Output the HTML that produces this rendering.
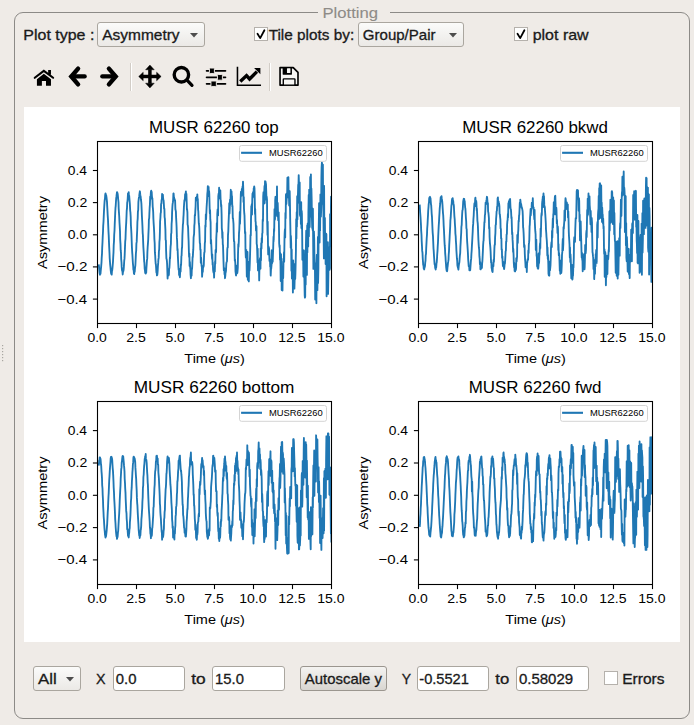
<!DOCTYPE html>
<html><head><meta charset="utf-8"><style>
html,body{margin:0;padding:0;}
body{width:694px;height:725px;overflow:hidden;background:#efebe7;position:relative;font-family:"Liberation Sans", sans-serif;}
.abs{position:absolute;}
.group{position:absolute;left:14px;top:12px;width:674px;height:705px;border:1px solid #8c8a87;border-radius:9px;}
.combo{position:absolute;border:1px solid #aaa69f;border-radius:3px;background:linear-gradient(#fbfbfa,#ebe9e6);}
.edit{position:absolute;border:1px solid #aaa69f;border-radius:3px;background:#fff;}
.btn{position:absolute;border:1px solid #9b968f;border-radius:3px;background:linear-gradient(#f4f3f1,#d9d6d1);}
.chk{position:absolute;width:12px;height:12px;border:1px solid #b5b1ac;background:#fff;}
.canvas{position:absolute;left:24px;top:107px;width:656px;height:535px;background:#fff;}
svg text{font-family:"Liberation Sans", sans-serif;}
</style></head><body>
<div class="group"></div>
<div class="abs" style="left:318px;top:4px;width:72px;height:16px;background:#efebe7"></div>

<div class="combo" style="left:97px;top:22px;width:106px;height:23px"></div>
<div class="combo" style="left:358px;top:22px;width:104px;height:23px"></div>
<div class="chk" style="left:254px;top:27px"></div>
<div class="chk" style="left:514px;top:27px"></div>

<div class="canvas"></div>

<div class="combo" style="left:33px;top:666px;width:46px;height:23px"></div>
<div class="edit" style="left:113px;top:666px;width:70px;height:23px"></div>
<div class="edit" style="left:212px;top:666px;width:71px;height:23px"></div>
<div class="btn" style="left:300px;top:666px;width:85px;height:23px"></div>
<div class="edit" style="left:417px;top:666px;width:70px;height:23px"></div>
<div class="edit" style="left:516px;top:666px;width:71px;height:23px"></div>
<div class="chk" style="left:604px;top:671px"></div>

<svg style="position:absolute;left:30px;top:62px" width="30" height="30" viewBox="0 0 694 694">
 <polyline points="110,365 320,205 535,365" fill="none" stroke="#000" stroke-width="48" stroke-linecap="round" stroke-linejoin="miter"/>
 <rect x="420" y="185" width="65" height="110" fill="#000"/>
 <polygon points="160,400 320,272 485,400 485,550 370,550 370,440 275,440 275,550 160,550" fill="#000"/>
</svg>
<svg style="position:absolute;left:62px;top:62px" width="30" height="30" viewBox="0 0 694 694">
 <polyline points="372,152 215,335 372,518" fill="none" stroke="#000" stroke-width="102" stroke-linecap="round" stroke-linejoin="miter" stroke-miterlimit="10"/>
 <line x1="250" y1="335" x2="525" y2="335" stroke="#000" stroke-width="98" stroke-linecap="round"/>
</svg>
<svg style="position:absolute;left:95px;top:62px" width="30" height="30" viewBox="0 0 694 694">
 <g transform="translate(694,0) scale(-1,1)">
 <polyline points="372,152 215,335 372,518" fill="none" stroke="#000" stroke-width="102" stroke-linecap="round" stroke-linejoin="miter" stroke-miterlimit="10"/>
 <line x1="250" y1="335" x2="525" y2="335" stroke="#000" stroke-width="98" stroke-linecap="round"/>
 </g>
</svg>
<svg style="position:absolute;left:135px;top:62px" width="30" height="30" viewBox="0 0 694 694">
 <rect x="305" y="170" width="80" height="330" fill="#000"/>
 <rect x="180" y="295" width="330" height="80" fill="#000"/>
 <polygon points="345,70 445,180 245,180" fill="#000" stroke="#000" stroke-width="10" stroke-linejoin="round"/>
 <polygon points="345,600 445,490 245,490" fill="#000" stroke="#000" stroke-width="10" stroke-linejoin="round"/>
 <polygon points="85,335 190,235 190,435" fill="#000" stroke="#000" stroke-width="10" stroke-linejoin="round"/>
 <polygon points="605,335 500,235 500,435" fill="#000" stroke="#000" stroke-width="10" stroke-linejoin="round"/>
</svg>
<svg style="position:absolute;left:168px;top:62px" width="30" height="30" viewBox="0 0 694 694">
 <circle cx="310" cy="295" r="167" fill="none" stroke="#000" stroke-width="78"/>
 <line x1="445" y1="425" x2="555" y2="540" stroke="#000" stroke-width="75" stroke-linecap="round"/>
</svg>
<svg style="position:absolute;left:201px;top:62px" width="30" height="30" viewBox="0 0 694 694">
 <g stroke="#000" stroke-width="42" stroke-linecap="round">
 <line x1="130" y1="205" x2="565" y2="205"/><line x1="130" y1="355" x2="565" y2="355"/><line x1="130" y1="505" x2="565" y2="505"/>
 </g>
 <g fill="#000" stroke="#efebe7" stroke-width="22">
 <rect x="195" y="140" width="115" height="125" rx="18"/>
 <rect x="380" y="290" width="115" height="130" rx="18"/>
 <rect x="230" y="440" width="125" height="125" rx="18"/>
 </g>
</svg>
<svg style="position:absolute;left:234px;top:62px" width="30" height="30" viewBox="0 0 694 694">
 <polyline points="80,110 80,537 625,537" fill="none" stroke="#000" stroke-width="36"/>
 <polyline points="145,450 290,315 360,392 530,222" fill="none" stroke="#000" stroke-width="78" stroke-linejoin="miter"/>
 <polygon points="465,140 610,140 610,285" fill="#000"/>
</svg>
<svg style="position:absolute;left:274px;top:62px" width="30" height="30" viewBox="0 0 694 694">
 <path d="M140,130 H445 L555,240 V535 H140 Z" fill="#f7f6f4" stroke="#000" stroke-width="38" stroke-linejoin="round"/>
 <rect x="200" y="130" width="215" height="165" rx="20" fill="#000"/>
 <rect x="300" y="145" width="80" height="110" rx="12" fill="#f7f6f4"/>
 <rect x="215" y="390" width="270" height="145" rx="14" fill="#f7f6f4" stroke="#000" stroke-width="32"/>
</svg>
<div style="position:absolute;left:130px;top:63px;width:1px;height:28px;background:#d2cdc7"></div>
<div style="position:absolute;left:131px;top:63px;width:1px;height:28px;background:#ffffff"></div>
<div style="position:absolute;left:269px;top:63px;width:1px;height:28px;background:#d2cdc7"></div>
<div style="position:absolute;left:270px;top:63px;width:1px;height:28px;background:#ffffff"></div>

<svg class="abs" style="left:0;top:0" width="694" height="725" viewBox="0 0 694 725">
<g fill="#1a1a1a">
<text x="322.43" y="17.60" font-size="14.3" fill="#8e8b87" textLength="55.64" lengthAdjust="spacingAndGlyphs" stroke="#8e8b87" stroke-width="0.1">Plotting</text>
<text x="23.29" y="39.80" font-size="14.3" fill="#1a1a1a" textLength="71.07" lengthAdjust="spacingAndGlyphs" stroke="#1a1a1a" stroke-width="0.3">Plot type :</text>
<text x="102.27" y="39.80" font-size="14.3" fill="#1a1a1a" textLength="77.36" lengthAdjust="spacingAndGlyphs" stroke="#1a1a1a" stroke-width="0.3">Asymmetry</text>
<text x="268.66" y="39.80" font-size="14.3" fill="#1a1a1a" textLength="85.53" lengthAdjust="spacingAndGlyphs" stroke="#1a1a1a" stroke-width="0.3">Tile plots by:</text>
<text x="362.84" y="39.80" font-size="14.3" fill="#1a1a1a" textLength="72.71" lengthAdjust="spacingAndGlyphs" stroke="#1a1a1a" stroke-width="0.3">Group/Pair</text>
<text x="532.67" y="39.80" font-size="14.3" fill="#1a1a1a" textLength="55.99" lengthAdjust="spacingAndGlyphs" stroke="#1a1a1a" stroke-width="0.3">plot raw</text>
<text x="38.07" y="683.80" font-size="14.3" fill="#1a1a1a" textLength="18.66" lengthAdjust="spacingAndGlyphs" stroke="#1a1a1a" stroke-width="0.3">All</text>
<text x="95.98" y="683.80" font-size="14.3" fill="#1a1a1a" textLength="9.52" lengthAdjust="spacingAndGlyphs" stroke="#1a1a1a" stroke-width="0.3">X</text>
<text x="115.82" y="683.80" font-size="14.3" fill="#1a1a1a" textLength="20.66" lengthAdjust="spacingAndGlyphs" stroke="#1a1a1a" stroke-width="0.3">0.0</text>
<text x="191.24" y="683.80" font-size="14.3" fill="#1a1a1a" textLength="14.49" lengthAdjust="spacingAndGlyphs" stroke="#1a1a1a" stroke-width="0.3">to</text>
<text x="215.07" y="683.80" font-size="14.3" fill="#1a1a1a" textLength="28.81" lengthAdjust="spacingAndGlyphs" stroke="#1a1a1a" stroke-width="0.3">15.0</text>
<text x="304.87" y="683.80" font-size="14.3" fill="#1a1a1a" textLength="77.06" lengthAdjust="spacingAndGlyphs" stroke="#1a1a1a" stroke-width="0.3">Autoscale y</text>
<text x="401.69" y="683.80" font-size="14.3" fill="#1a1a1a" textLength="9.31" lengthAdjust="spacingAndGlyphs" stroke="#1a1a1a" stroke-width="0.3">Y</text>
<text x="419.25" y="683.80" font-size="14.3" fill="#1a1a1a" textLength="49.67" lengthAdjust="spacingAndGlyphs" stroke="#1a1a1a" stroke-width="0.3">-0.5521</text>
<text x="495.35" y="683.80" font-size="14.3" fill="#1a1a1a" textLength="13.96" lengthAdjust="spacingAndGlyphs" stroke="#1a1a1a" stroke-width="0.3">to</text>
<text x="518.91" y="683.80" font-size="14.3" fill="#1a1a1a" textLength="54.20" lengthAdjust="spacingAndGlyphs" stroke="#1a1a1a" stroke-width="0.3">0.58029</text>
<text x="622.22" y="683.80" font-size="14.3" fill="#1a1a1a" textLength="42.34" lengthAdjust="spacingAndGlyphs" stroke="#1a1a1a" stroke-width="0.3">Errors</text>
</g>
<g fill="#4d4d4d">
<polygon points="190,33 198,33 194,37.5"/>
<polygon points="449,33 457,33 453,37.5"/>
<polygon points="66,677 74,677 70,681.5"/>
</g>
<g fill="none" stroke="#000" stroke-width="1.8" stroke-linecap="round" stroke-linejoin="round">
<polyline points="257.5,33.7 260.2,38.1 264.4,30.3"/>
<polyline points="517.5,33.7 520.2,38.1 524.4,30.3"/>
</g>
<g fill="#a8a6a2"><rect x="2" y="345" width="1.2" height="1.2"/><rect x="2" y="348" width="1.2" height="1.2"/><rect x="2" y="351" width="1.2" height="1.2"/><rect x="2" y="354" width="1.2" height="1.2"/><rect x="2" y="357" width="1.2" height="1.2"/><rect x="2" y="360" width="1.2" height="1.2"/></g>
<clipPath id="c1"><rect x="97.5" y="141.5" width="234.0" height="182.0"/></clipPath>
<polyline clip-path="url(#c1)" fill="none" stroke="#1f77b4" stroke-width="1.85" stroke-linejoin="round" points="98.7,264.3 99.0,266.6 99.2,269.0 99.5,272.2 99.7,273.5 100.0,274.7 100.2,273.8 100.5,273.8 100.7,271.3 101.0,268.1 101.2,266.1 101.5,262.4 101.7,257.9 102.0,253.7 102.2,247.9 102.5,242.2 102.7,237.2 103.0,231.7 103.2,226.0 103.5,221.7 103.7,217.2 104.0,210.7 104.2,207.3 104.5,202.6 104.7,200.1 105.0,198.3 105.2,194.9 105.5,193.5 105.7,194.2 106.0,194.9 106.2,195.3 106.5,197.3 106.7,199.2 107.0,201.9 107.2,206.1 107.5,211.4 107.7,215.4 108.0,219.9 108.2,224.9 108.5,231.9 108.7,235.1 109.0,242.6 109.2,247.2 109.5,253.1 109.7,258.1 110.0,262.1 110.2,265.0 110.5,267.6 110.7,270.1 111.0,272.6 111.2,273.9 111.5,274.2 111.7,274.6 112.0,270.8 112.2,270.4 112.5,267.6 112.7,265.1 113.0,261.6 113.2,257.2 113.5,252.4 113.7,245.5 114.0,241.1 114.2,234.7 114.5,230.8 114.7,225.3 115.0,218.1 115.2,213.2 115.5,207.7 115.7,206.1 116.0,201.0 116.2,198.3 116.5,196.2 116.7,194.4 117.0,192.2 117.2,192.3 117.5,193.6 117.7,194.2 118.0,197.0 118.2,199.5 118.5,202.1 118.7,208.6 119.0,213.1 119.2,216.0 119.5,222.8 119.7,225.8 120.0,231.2 120.2,239.6 120.5,244.1 120.7,250.2 121.0,252.8 121.2,259.1 121.5,262.5 121.7,266.9 122.0,270.1 122.2,270.7 122.5,271.9 122.7,274.5 123.0,271.8 123.2,271.4 123.5,270.4 123.7,269.2 124.0,264.7 124.2,261.2 124.5,258.4 124.7,254.8 125.0,246.9 125.2,241.7 125.5,238.8 125.7,232.7 126.0,226.0 126.2,223.1 126.5,216.3 126.7,210.8 127.0,208.1 127.2,202.7 127.5,201.1 127.7,198.5 128.0,193.4 128.2,193.5 128.5,194.2 128.7,192.1 128.9,196.0 129.2,195.8 129.4,198.6 129.7,202.1 129.9,204.6 130.2,210.8 130.4,212.1 130.7,217.0 130.9,225.0 131.2,229.5 131.4,233.1 131.7,241.2 131.9,246.7 132.2,252.3 132.4,254.7 132.7,260.3 132.9,263.3 133.2,266.2 133.4,269.8 133.7,270.3 133.9,273.6 134.2,274.1 134.4,270.7 134.7,271.9 134.9,269.1 135.2,266.7 135.4,265.0 135.7,258.3 135.9,253.5 136.2,250.6 136.4,243.6 136.7,241.9 136.9,236.4 137.2,230.0 137.4,222.0 137.7,218.6 137.9,211.9 138.2,210.0 138.4,202.2 138.7,199.4 138.9,197.5 139.2,196.7 139.4,194.4 139.7,192.3 139.9,191.3 140.2,194.2 140.4,195.5 140.7,197.0 140.9,199.5 141.2,201.5 141.4,203.6 141.7,210.4 141.9,215.9 142.2,221.3 142.4,225.1 142.7,233.1 142.9,235.0 143.2,243.1 143.4,247.6 143.7,252.1 143.9,256.1 144.2,261.6 144.4,262.9 144.7,269.1 144.9,269.9 145.2,273.0 145.4,272.2 145.7,273.6 145.9,271.7 146.2,272.6 146.4,268.4 146.7,264.2 146.9,260.6 147.2,258.9 147.4,252.2 147.7,246.5 147.9,244.1 148.2,239.7 148.4,234.4 148.7,227.8 148.9,219.6 149.2,218.3 149.4,213.5 149.7,207.0 149.9,204.8 150.2,196.6 150.4,199.3 150.7,195.2 150.9,192.0 151.2,190.7 151.4,192.0 151.7,191.9 151.9,195.8 152.2,199.0 152.4,198.3 152.7,206.6 152.9,208.3 153.2,212.2 153.4,218.7 153.7,224.1 153.9,227.0 154.2,233.0 154.4,239.3 154.7,243.2 154.9,252.4 155.2,255.6 155.4,259.7 155.7,263.9 155.9,264.2 156.2,269.3 156.4,272.4 156.7,271.3 156.9,275.4 157.2,275.1 157.4,274.1 157.7,270.4 157.9,266.5 158.2,262.9 158.4,259.5 158.7,257.9 158.9,251.4 159.2,249.5 159.4,242.0 159.7,238.8 159.9,231.7 160.1,221.6 160.4,217.8 160.6,213.6 160.9,212.3 161.1,203.8 161.4,203.8 161.6,199.8 161.9,199.8 162.1,193.9 162.4,195.5 162.6,195.4 162.9,194.9 163.1,198.2 163.4,200.1 163.6,200.4 163.9,204.7 164.1,208.6 164.4,208.8 164.6,217.1 164.9,218.8 165.1,224.1 165.4,229.6 165.6,239.7 165.9,240.6 166.1,250.4 166.4,258.5 166.6,259.0 166.9,260.8 167.1,263.9 167.4,272.2 167.6,278.5 167.9,272.5 168.1,275.3 168.4,274.7 168.6,275.4 168.9,274.4 169.1,269.0 169.4,267.8 169.6,264.1 169.9,257.5 170.1,258.5 170.4,250.5 170.6,246.6 170.9,243.9 171.1,234.0 171.4,233.0 171.6,224.0 171.9,220.1 172.1,212.1 172.4,206.8 172.6,204.1 172.9,202.4 173.1,200.3 173.4,193.5 173.6,193.4 173.9,197.2 174.1,197.7 174.4,199.1 174.6,199.2 174.9,200.7 175.1,200.5 175.4,209.4 175.6,209.9 175.9,211.6 176.1,217.3 176.4,222.8 176.6,227.3 176.9,237.9 177.1,240.5 177.4,250.2 177.6,249.0 177.9,256.6 178.1,261.1 178.4,266.7 178.6,269.8 178.9,268.6 179.1,275.0 179.4,273.2 179.6,275.1 179.9,277.3 180.1,273.0 180.4,269.7 180.6,271.7 180.9,264.4 181.1,265.3 181.4,256.1 181.6,255.7 181.9,247.8 182.1,247.9 182.4,235.2 182.6,230.9 182.9,224.2 183.1,223.8 183.4,217.4 183.6,214.7 183.9,207.2 184.1,204.3 184.4,200.3 184.6,201.2 184.9,198.7 185.1,194.2 185.4,195.3 185.6,193.6 185.9,191.5 186.1,197.5 186.4,193.8 186.6,199.0 186.9,209.4 187.1,209.1 187.4,212.4 187.6,224.6 187.9,225.7 188.1,227.7 188.4,236.5 188.6,240.7 188.9,251.9 189.1,257.0 189.4,253.7 189.6,266.0 189.9,262.0 190.1,266.7 190.4,269.6 190.6,274.7 190.9,278.2 191.1,273.7 191.3,273.8 191.6,275.8 191.8,269.5 192.1,268.8 192.3,264.5 192.6,256.9 192.8,257.3 193.1,251.6 193.3,249.4 193.6,237.5 193.8,235.8 194.1,233.9 194.3,225.9 194.6,223.0 194.8,214.9 195.1,215.4 195.3,211.3 195.6,206.3 195.8,197.8 196.1,199.4 196.3,199.0 196.6,199.1 196.8,196.8 197.1,199.9 197.3,194.4 197.6,201.0 197.8,199.0 198.1,209.8 198.3,211.2 198.6,218.5 198.8,223.2 199.1,225.4 199.3,228.4 199.6,237.0 199.8,242.9 200.1,243.8 200.3,249.6 200.6,249.5 200.8,262.7 201.1,257.6 201.3,261.3 201.6,266.3 201.8,265.7 202.1,276.7 202.3,272.9 202.6,270.2 202.8,272.0 203.1,265.9 203.3,267.3 203.6,266.4 203.8,265.1 204.1,255.3 204.3,252.4 204.6,251.9 204.8,243.7 205.1,241.2 205.3,225.5 205.6,226.9 205.8,214.4 206.1,219.3 206.3,214.0 206.6,207.3 206.8,204.1 207.1,199.2 207.3,194.0 207.6,191.1 207.8,186.2 208.1,193.5 208.3,196.1 208.6,186.8 208.8,194.6 209.1,191.1 209.3,194.2 209.6,206.6 209.8,213.1 210.1,210.1 210.3,219.4 210.6,222.1 210.8,243.5 211.1,239.9 211.3,244.5 211.6,251.1 211.8,255.4 212.1,258.9 212.3,254.5 212.6,264.8 212.8,262.5 213.1,269.9 213.3,271.3 213.6,272.8 213.8,269.8 214.1,277.6 214.3,268.4 214.6,271.5 214.8,271.4 215.1,261.2 215.3,263.7 215.6,249.9 215.8,252.9 216.1,251.7 216.3,238.4 216.6,232.2 216.8,223.3 217.1,231.7 217.3,214.1 217.6,209.5 217.8,214.0 218.1,215.4 218.3,196.4 218.6,193.6 218.8,198.5 219.1,187.7 219.3,192.1 219.6,193.7 219.8,193.5 220.1,192.7 220.3,190.3 220.6,199.8 220.8,200.3 221.1,206.4 221.3,205.0 221.6,214.2 221.8,228.1 222.1,231.0 222.3,237.9 222.5,232.1 222.8,244.6 223.0,245.0 223.3,254.8 223.5,261.4 223.8,270.1 224.0,269.1 224.3,268.2 224.5,274.1 224.8,273.3 225.0,278.2 225.3,275.9 225.5,273.0 225.8,271.9 226.0,270.6 226.3,264.0 226.5,262.3 226.8,261.6 227.0,261.1 227.3,249.3 227.5,247.6 227.8,247.6 228.0,235.1 228.3,231.4 228.5,224.5 228.8,217.1 229.0,211.7 229.3,203.1 229.5,213.5 229.8,207.6 230.0,199.7 230.3,204.7 230.5,199.1 230.8,189.8 231.0,197.3 231.3,192.6 231.5,191.4 231.8,197.8 232.0,196.2 232.3,206.7 232.5,206.0 232.8,218.5 233.0,218.2 233.3,221.5 233.5,223.9 233.8,238.1 234.0,241.4 234.3,241.7 234.5,248.3 234.8,260.8 235.0,259.3 235.3,263.3 235.5,271.3 235.8,273.7 236.0,275.5 236.3,274.2 236.5,269.4 236.8,265.6 237.0,268.1 237.3,273.1 237.5,271.5 237.8,267.6 238.0,255.0 238.3,244.2 238.5,247.0 238.8,241.5 239.0,233.4 239.3,229.6 239.5,223.5 239.8,212.0 240.0,223.7 240.3,215.3 240.5,206.3 240.8,194.3 241.0,191.6 241.3,196.2 241.5,195.8 241.8,189.5 242.0,188.7 242.3,191.7 242.5,186.6 242.8,186.6 243.0,181.6 243.3,189.9 243.5,202.0 243.8,197.1 244.0,208.8 244.3,213.7 244.5,215.4 244.8,226.9 245.0,233.1 245.3,232.1 245.5,249.9 245.8,257.5 246.0,253.8 246.3,249.8 246.5,257.7 246.8,276.6 247.0,270.6 247.3,276.9 247.5,252.0 247.8,279.7 248.0,277.0 248.3,266.0 248.5,276.0 248.8,281.4 249.0,272.9 249.3,261.6 249.5,270.5 249.8,263.2 250.0,256.8 250.3,245.8 250.5,234.9 250.8,235.5 251.0,220.0 251.3,206.1 251.5,210.5 251.8,204.1 252.0,214.5 252.3,198.7 252.5,193.6 252.8,197.4 253.0,192.1 253.3,192.9 253.5,196.1 253.7,188.5 254.0,187.9 254.2,186.4 254.5,188.5 254.7,196.2 255.0,213.9 255.2,208.9 255.5,221.3 255.7,221.8 256.0,230.4 256.2,225.7 256.5,226.3 256.7,243.9 257.0,245.4 257.2,250.5 257.5,262.6 257.7,248.7 258.0,270.4 258.2,260.8 258.5,262.2 258.7,260.3 259.0,269.8 259.2,280.4 259.5,265.1 259.7,269.8 260.0,258.2 260.2,267.2 260.5,268.7 260.7,248.4 261.0,260.2 261.2,243.2 261.5,248.4 261.7,238.2 262.0,242.4 262.2,233.7 262.5,232.8 262.7,219.8 263.0,221.2 263.2,196.5 263.5,192.1 263.7,204.0 264.0,200.2 264.2,192.9 264.5,186.0 264.7,203.0 265.0,181.2 265.2,199.7 265.5,181.5 265.7,182.7 266.0,184.3 266.2,190.4 266.5,199.4 266.7,196.6 267.0,199.9 267.2,221.9 267.5,235.0 267.7,221.7 268.0,245.4 268.2,254.4 268.5,246.3 268.7,249.4 269.0,247.9 269.2,252.8 269.5,260.9 269.7,259.5 270.0,259.5 270.2,266.6 270.5,267.2 270.7,275.6 271.0,269.1 271.2,268.6 271.5,265.3 271.7,250.3 272.0,263.4 272.2,259.1 272.5,250.7 272.7,261.6 273.0,252.9 273.2,248.0 273.5,236.8 273.7,240.9 274.0,228.9 274.2,231.4 274.5,209.1 274.7,219.9 275.0,219.1 275.2,200.4 275.5,196.8 275.7,214.9 276.0,204.3 276.2,212.9 276.5,212.9 276.7,213.7 277.0,186.5 277.2,216.3 277.5,210.8 277.7,202.8 278.0,212.1 278.2,220.2 278.5,219.0 278.7,212.3 279.0,229.8 279.2,243.5 279.5,247.1 279.7,245.4 280.0,259.8 280.2,253.0 280.5,264.1 280.7,281.1 281.0,254.1 281.2,266.8 281.5,258.7 281.7,290.1 282.0,278.8 282.2,282.7 282.5,290.5 282.7,272.0 283.0,278.5 283.2,277.8 283.5,261.6 283.7,262.7 284.0,252.2 284.2,261.5 284.5,238.0 284.7,232.3 284.9,229.3 285.2,237.4 285.4,213.0 285.7,218.2 285.9,194.9 286.2,194.0 286.4,203.9 286.7,198.6 286.9,196.2 287.2,191.8 287.4,177.7 287.7,191.9 287.9,177.7 288.2,194.7 288.4,177.2 288.7,198.0 288.9,193.7 289.2,205.5 289.4,192.4 289.7,191.2 289.9,200.4 290.2,219.5 290.4,229.6 290.7,247.7 290.9,235.8 291.2,243.6 291.4,270.8 291.7,249.5 291.9,278.6 292.2,278.8 292.4,277.1 292.7,270.2 292.9,292.6 293.2,260.5 293.4,274.2 293.7,266.8 293.9,281.9 294.2,264.2 294.4,288.6 294.7,278.1 294.9,279.1 295.2,278.9 295.4,273.9 295.7,261.1 295.9,251.6 296.2,219.1 296.4,238.5 296.7,212.2 296.9,226.8 297.2,196.2 297.4,219.5 297.7,201.4 297.9,196.5 298.2,184.8 298.4,189.0 298.7,175.1 298.9,181.4 299.2,202.4 299.4,202.9 299.7,182.4 299.9,214.5 300.2,216.0 300.4,211.4 300.7,211.9 300.9,224.1 301.2,202.2 301.4,228.0 301.7,211.0 301.9,213.8 302.2,236.6 302.4,259.7 302.7,254.2 302.9,251.5 303.2,258.6 303.4,276.6 303.7,276.9 303.9,250.3 304.2,260.7 304.4,279.8 304.7,295.3 304.9,297.6 305.2,296.9 305.4,256.3 305.7,284.4 305.9,247.1 306.2,230.8 306.4,266.0 306.7,251.6 306.9,274.9 307.2,225.5 307.4,252.5 307.7,223.4 307.9,236.7 308.2,246.4 308.4,213.1 308.7,194.9 308.9,236.2 309.2,189.6 309.4,198.3 309.7,227.0 309.9,216.7 310.2,177.5 310.4,176.8 310.7,216.7 310.9,174.3 311.2,211.7 311.4,188.4 311.7,201.0 311.9,217.4 312.2,227.9 312.4,226.9 312.7,230.1 312.9,208.7 313.2,246.8 313.4,268.9 313.7,250.0 313.9,231.4 314.2,239.1 314.4,252.9 314.7,262.3 314.9,263.2 315.2,299.5 315.4,293.7 315.7,285.0 315.9,264.0 316.1,275.9 316.4,303.2 316.6,268.3 316.9,254.8 317.1,286.1 317.4,290.2 317.6,273.4 317.9,236.9 318.1,283.0 318.4,268.0 318.6,234.6 318.9,217.2 319.1,203.1 319.4,235.6 319.6,242.6 319.9,207.2 320.1,230.5 320.4,194.5 320.6,215.2 320.9,216.7 321.1,211.4 321.4,176.8 321.6,167.6 321.9,162.5 322.1,170.3 322.4,203.7 322.6,193.2 322.9,164.6 323.1,203.8 323.4,212.3 323.6,231.3 323.9,258.4 324.1,185.8 324.4,248.9 324.6,244.0 324.9,217.9 325.1,237.7 325.4,234.7 325.6,264.1 325.9,253.5 326.1,233.6 326.4,234.6 326.6,296.3 326.9,264.3 327.1,267.7 327.4,288.4 327.6,259.6 327.9,242.2 328.1,293.9 328.4,273.6 328.6,257.3 328.9,259.4 329.1,258.0 329.4,247.2 329.6,269.9 329.9,268.2 330.1,214.2 330.4,237.4 330.6,241.9 330.9,209.5 331.1,196.6 331.4,247.3"/>
<rect x="97.5" y="141.5" width="234.0" height="182.0" fill="none" stroke="#000" stroke-width="1.1"/>
<line x1="97.5" y1="323.5" x2="97.5" y2="328.1" stroke="#000" stroke-width="1.1"/>
<text x="87.46" y="341.80" font-size="13.0" fill="#000" textLength="19.39" lengthAdjust="spacingAndGlyphs">0.0</text>
<line x1="136.5" y1="323.5" x2="136.5" y2="328.1" stroke="#000" stroke-width="1.1"/>
<text x="126.29" y="341.80" font-size="13.0" fill="#000" textLength="19.60" lengthAdjust="spacingAndGlyphs">2.5</text>
<line x1="175.5" y1="323.5" x2="175.5" y2="328.1" stroke="#000" stroke-width="1.1"/>
<text x="165.44" y="341.80" font-size="13.0" fill="#000" textLength="19.40" lengthAdjust="spacingAndGlyphs">5.0</text>
<line x1="214.5" y1="323.5" x2="214.5" y2="328.1" stroke="#000" stroke-width="1.1"/>
<text x="204.28" y="341.80" font-size="13.0" fill="#000" textLength="19.61" lengthAdjust="spacingAndGlyphs">7.5</text>
<line x1="253.5" y1="323.5" x2="253.5" y2="328.1" stroke="#000" stroke-width="1.1"/>
<text x="239.21" y="341.80" font-size="13.0" fill="#000" textLength="27.35" lengthAdjust="spacingAndGlyphs">10.0</text>
<line x1="292.5" y1="323.5" x2="292.5" y2="328.1" stroke="#000" stroke-width="1.1"/>
<text x="278.21" y="341.80" font-size="13.0" fill="#000" textLength="27.39" lengthAdjust="spacingAndGlyphs">12.5</text>
<line x1="331.5" y1="323.5" x2="331.5" y2="328.1" stroke="#000" stroke-width="1.1"/>
<text x="317.21" y="341.80" font-size="13.0" fill="#000" textLength="27.35" lengthAdjust="spacingAndGlyphs">15.0</text>
<line x1="92.9" y1="170.5" x2="97.5" y2="170.5" stroke="#000" stroke-width="1.1"/>
<text x="67.76" y="174.98" font-size="13.0" fill="#000" textLength="19.24" lengthAdjust="spacingAndGlyphs">0.4</text>
<line x1="92.9" y1="202.6" x2="97.5" y2="202.6" stroke="#000" stroke-width="1.1"/>
<text x="67.75" y="207.12" font-size="13.0" fill="#000" textLength="19.55" lengthAdjust="spacingAndGlyphs">0.2</text>
<line x1="92.9" y1="234.8" x2="97.5" y2="234.8" stroke="#000" stroke-width="1.1"/>
<text x="67.76" y="239.27" font-size="13.0" fill="#000" textLength="19.39" lengthAdjust="spacingAndGlyphs">0.0</text>
<line x1="92.9" y1="266.9" x2="97.5" y2="266.9" stroke="#000" stroke-width="1.1"/>
<text x="57.41" y="271.41" font-size="13.0" fill="#000" textLength="29.95" lengthAdjust="spacingAndGlyphs">−0.2</text>
<line x1="92.9" y1="299.1" x2="97.5" y2="299.1" stroke="#000" stroke-width="1.1"/>
<text x="57.42" y="303.55" font-size="13.0" fill="#000" textLength="29.62" lengthAdjust="spacingAndGlyphs">−0.4</text>
<text x="184.33" y="362.90" font-size="13.0" fill="#000" textLength="60.46" lengthAdjust="spacingAndGlyphs">Time (<tspan font-style="italic">μs</tspan>)</text>
<text transform="translate(46.70,269.00) rotate(-90)" x="-0.03" y="0" font-size="13.0" fill="#000" textLength="73.06" lengthAdjust="spacingAndGlyphs">Asymmetry</text>
<text x="149.01" y="132.70" font-size="16.4" fill="#000" textLength="129.70" lengthAdjust="spacingAndGlyphs">MUSR 62260 top</text>
<rect x="239.5" y="145.5" width="87" height="15.8" rx="2" fill="#fff" fill-opacity="0.8" stroke="#d4d4d4" stroke-width="1"/>
<line x1="241.1" y1="152.8" x2="262.0" y2="152.8" stroke="#1f77b4" stroke-width="2.1"/>
<text x="269.03" y="155.70" font-size="9.4" fill="#000" textLength="53.63" lengthAdjust="spacingAndGlyphs">MUSR62260</text>
<clipPath id="c2"><rect x="418.5" y="141.5" width="234.0" height="182.0"/></clipPath>
<polyline clip-path="url(#c2)" fill="none" stroke="#1f77b4" stroke-width="1.85" stroke-linejoin="round" points="419.7,204.6 420.0,209.9 420.2,213.0 420.5,217.0 420.7,220.3 421.0,225.5 421.2,230.9 421.5,235.0 421.7,241.1 422.0,246.5 422.2,250.9 422.5,252.9 422.7,257.6 423.0,262.0 423.2,264.9 423.5,265.5 423.7,268.3 424.0,269.0 424.2,269.5 424.5,267.2 424.7,267.2 425.0,265.8 425.2,262.9 425.5,260.7 425.7,255.4 426.0,253.8 426.2,248.5 426.5,242.6 426.7,238.5 427.0,234.4 427.2,228.5 427.5,224.7 427.7,220.8 428.0,215.4 428.2,210.8 428.5,207.1 428.7,204.1 429.0,202.3 429.2,198.3 429.5,197.7 429.7,197.1 430.0,196.8 430.2,198.4 430.5,198.1 430.7,200.8 431.0,204.6 431.2,205.3 431.5,210.2 431.7,213.8 432.0,217.2 432.2,222.0 432.5,229.1 432.7,232.9 433.0,236.4 433.2,241.3 433.5,248.5 433.7,250.6 434.0,256.0 434.2,258.7 434.5,263.3 434.7,264.7 435.0,265.3 435.2,268.2 435.5,268.5 435.7,269.5 436.0,266.3 436.2,267.5 436.5,263.3 436.7,262.6 437.0,258.8 437.2,254.8 437.5,250.9 437.7,246.9 438.0,242.0 438.2,236.8 438.5,230.3 438.7,226.4 439.0,221.7 439.2,217.9 439.5,212.9 439.7,208.8 440.0,205.6 440.2,203.7 440.5,199.9 440.7,197.2 441.0,197.0 441.2,197.2 441.5,196.2 441.7,198.2 442.0,200.0 442.2,201.1 442.5,205.0 442.7,208.6 443.0,213.3 443.2,215.0 443.5,220.6 443.7,225.7 444.0,230.7 444.2,235.3 444.5,241.9 444.7,245.2 445.0,248.8 445.2,253.7 445.5,256.8 445.7,260.6 446.0,264.1 446.2,267.4 446.5,269.9 446.7,270.9 447.0,271.3 447.2,270.9 447.5,267.0 447.7,266.0 448.0,262.8 448.2,261.7 448.5,259.8 448.7,254.8 449.0,251.1 449.2,245.6 449.5,240.1 449.7,235.6 449.9,232.0 450.2,226.3 450.4,220.3 450.7,217.7 450.9,213.9 451.2,209.3 451.4,205.8 451.7,204.0 451.9,200.3 452.2,198.6 452.4,201.2 452.7,198.2 452.9,200.6 453.2,200.9 453.4,203.2 453.7,204.7 453.9,206.2 454.2,212.6 454.4,216.3 454.7,219.4 454.9,223.8 455.2,228.0 455.4,233.6 455.7,236.3 455.9,241.0 456.2,245.2 456.4,250.5 456.7,255.0 456.9,258.2 457.2,260.8 457.4,265.4 457.7,266.7 457.9,267.5 458.2,268.5 458.4,269.7 458.7,266.4 458.9,264.9 459.2,263.1 459.4,262.1 459.7,257.7 459.9,255.3 460.2,253.1 460.4,246.9 460.7,242.0 460.9,238.0 461.2,232.7 461.4,226.8 461.7,224.8 461.9,219.2 462.2,213.2 462.4,210.6 462.7,209.8 462.9,207.0 463.2,201.5 463.4,200.4 463.7,198.8 463.9,199.2 464.2,198.9 464.4,201.7 464.7,201.1 464.9,204.3 465.2,208.0 465.4,208.5 465.7,213.9 465.9,217.7 466.2,221.5 466.4,228.3 466.7,229.3 466.9,236.3 467.2,242.2 467.4,244.7 467.7,249.6 467.9,252.8 468.2,259.6 468.4,261.9 468.7,266.3 468.9,266.0 469.2,266.4 469.4,270.3 469.7,267.3 469.9,268.0 470.2,270.3 470.4,267.8 470.7,263.4 470.9,260.6 471.2,258.4 471.4,254.2 471.7,250.1 471.9,246.1 472.2,241.1 472.4,237.2 472.7,231.8 472.9,226.8 473.2,223.9 473.4,219.5 473.7,215.5 473.9,210.8 474.2,206.2 474.4,203.6 474.7,202.9 474.9,206.1 475.2,198.6 475.4,197.6 475.7,202.1 475.9,203.2 476.2,200.8 476.4,202.8 476.7,210.1 476.9,208.6 477.2,215.3 477.4,220.6 477.7,223.1 477.9,226.1 478.2,234.7 478.4,239.8 478.7,244.9 478.9,247.7 479.2,250.0 479.4,256.2 479.7,258.8 479.9,264.3 480.2,262.1 480.4,269.2 480.7,269.4 480.9,267.1 481.1,266.3 481.4,266.4 481.6,265.7 481.9,268.0 482.1,263.7 482.4,260.8 482.6,257.0 482.9,250.8 483.1,245.6 483.4,241.2 483.6,240.6 483.9,232.1 484.1,228.7 484.4,222.0 484.6,222.4 484.9,215.0 485.1,214.5 485.4,208.7 485.6,202.8 485.9,204.5 486.1,203.6 486.4,200.5 486.6,199.7 486.9,196.8 487.1,197.1 487.4,200.7 487.6,203.6 487.9,203.1 488.1,211.6 488.4,212.7 488.6,214.6 488.9,218.0 489.1,228.4 489.4,227.3 489.6,237.2 489.9,242.8 490.1,244.7 490.4,248.1 490.6,251.3 490.9,258.5 491.1,262.8 491.4,262.5 491.6,267.8 491.9,268.9 492.1,270.8 492.4,271.7 492.6,272.0 492.9,265.3 493.1,265.4 493.4,266.2 493.6,260.0 493.9,262.0 494.1,257.7 494.4,248.5 494.6,245.0 494.9,245.0 495.1,237.1 495.4,233.1 495.6,225.1 495.9,224.8 496.1,219.0 496.4,215.0 496.6,211.2 496.9,210.8 497.1,206.6 497.4,206.6 497.6,198.4 497.9,197.4 498.1,201.9 498.4,202.8 498.6,201.3 498.9,203.6 499.1,203.5 499.4,206.3 499.6,214.1 499.9,214.4 500.1,217.1 500.4,219.9 500.6,228.4 500.9,229.0 501.1,238.6 501.4,238.3 501.6,249.8 501.9,249.3 502.1,258.0 502.4,256.3 502.6,261.3 502.9,265.9 503.1,264.4 503.4,266.6 503.6,262.1 503.9,267.9 504.1,269.0 504.4,266.9 504.6,264.1 504.9,263.7 505.1,261.5 505.4,256.0 505.6,251.5 505.9,250.5 506.1,241.7 506.4,241.6 506.6,234.5 506.9,234.2 507.1,224.8 507.4,220.9 507.6,220.3 507.9,214.0 508.1,217.3 508.4,203.2 508.6,207.9 508.9,201.1 509.1,205.1 509.4,202.9 509.6,199.7 509.9,199.2 510.1,198.9 510.4,205.8 510.6,208.9 510.9,209.3 511.1,211.9 511.4,218.2 511.6,217.1 511.9,227.4 512.1,234.3 512.3,232.5 512.6,239.9 512.8,242.9 513.1,252.0 513.3,248.8 513.6,255.8 513.8,262.8 514.1,267.1 514.3,263.0 514.6,270.9 514.8,265.7 515.1,271.4 515.3,265.0 515.6,266.9 515.8,270.2 516.1,267.8 516.3,258.1 516.6,261.6 516.8,259.2 517.1,256.5 517.3,234.9 517.6,243.2 517.8,242.7 518.1,232.4 518.3,230.1 518.6,220.8 518.8,221.8 519.1,215.2 519.3,215.0 519.6,208.0 519.8,202.8 520.1,205.3 520.3,199.6 520.6,202.1 520.8,205.4 521.1,203.8 521.3,205.1 521.6,207.8 521.8,207.2 522.1,208.4 522.3,209.4 522.6,211.2 522.8,215.1 523.1,227.2 523.3,228.2 523.6,232.9 523.8,237.6 524.1,247.0 524.3,244.6 524.6,245.8 524.8,253.7 525.1,259.6 525.3,261.5 525.6,267.3 525.8,263.3 526.1,267.2 526.3,263.6 526.6,265.5 526.8,272.0 527.1,262.1 527.3,262.5 527.6,259.3 527.8,259.7 528.1,259.7 528.3,250.5 528.6,253.0 528.8,245.0 529.1,242.2 529.3,239.8 529.6,226.4 529.8,224.6 530.1,217.1 530.3,214.9 530.6,209.0 530.8,215.3 531.1,209.9 531.3,209.7 531.6,207.9 531.8,202.8 532.1,205.0 532.3,204.9 532.6,203.6 532.8,198.2 533.1,207.6 533.3,207.7 533.6,207.4 533.8,213.1 534.1,215.9 534.3,219.2 534.6,209.8 534.8,221.7 535.1,228.3 535.3,231.2 535.6,234.3 535.8,249.9 536.1,248.7 536.3,239.6 536.6,255.9 536.8,253.7 537.1,266.3 537.3,258.6 537.6,268.0 537.8,264.0 538.1,268.8 538.3,268.2 538.6,264.3 538.8,253.3 539.1,263.0 539.3,255.7 539.6,254.2 539.8,246.7 540.1,243.1 540.3,248.4 540.6,228.6 540.8,236.6 541.1,225.6 541.3,216.0 541.6,213.0 541.8,215.4 542.1,203.9 542.3,201.4 542.6,199.7 542.8,196.8 543.1,207.0 543.3,196.3 543.5,193.5 543.8,203.6 544.0,196.2 544.3,204.9 544.5,206.7 544.8,206.8 545.0,210.7 545.3,214.6 545.5,218.0 545.8,223.2 546.0,229.8 546.3,233.5 546.5,237.1 546.8,240.6 547.0,244.4 547.3,255.4 547.5,247.5 547.8,258.9 548.0,255.1 548.3,263.7 548.5,273.7 548.8,275.4 549.0,274.6 549.3,275.7 549.5,269.3 549.8,261.4 550.0,270.4 550.3,267.4 550.5,265.2 550.8,256.4 551.0,248.1 551.3,244.1 551.5,242.1 551.8,247.1 552.0,230.9 552.3,237.4 552.5,228.0 552.8,218.8 553.0,227.6 553.3,214.0 553.5,213.7 553.8,202.1 554.0,214.5 554.3,208.2 554.5,208.2 554.8,197.8 555.0,196.2 555.3,195.7 555.5,201.7 555.8,214.4 556.0,210.9 556.3,207.7 556.5,210.1 556.8,223.3 557.0,219.9 557.3,227.9 557.5,232.9 557.8,226.5 558.0,229.9 558.3,249.9 558.5,244.1 558.8,255.1 559.0,252.9 559.3,255.4 559.5,261.2 559.8,270.7 560.0,264.5 560.3,273.8 560.5,260.6 560.8,266.8 561.0,270.8 561.3,273.0 561.5,270.9 561.8,263.9 562.0,255.0 562.3,251.9 562.5,245.0 562.8,238.9 563.0,250.1 563.3,244.2 563.5,227.1 563.8,228.9 564.0,225.0 564.3,221.2 564.5,210.4 564.8,217.1 565.0,220.5 565.3,202.9 565.5,198.2 565.8,200.0 566.0,209.4 566.3,207.3 566.5,206.3 566.8,202.3 567.0,204.0 567.3,207.7 567.5,204.4 567.8,204.6 568.0,217.6 568.3,211.3 568.5,218.3 568.8,232.0 569.0,236.5 569.3,241.0 569.5,244.3 569.8,257.4 570.0,247.5 570.3,261.9 570.5,254.3 570.8,260.0 571.0,268.5 571.3,278.2 571.5,272.6 571.8,271.8 572.0,265.0 572.3,279.5 572.5,279.3 572.8,275.3 573.0,275.7 573.3,267.0 573.5,267.4 573.8,257.3 574.0,241.6 574.3,237.2 574.5,240.2 574.7,238.4 575.0,241.8 575.2,231.5 575.5,222.8 575.7,218.1 576.0,217.8 576.2,218.6 576.5,201.8 576.7,191.1 577.0,189.9 577.2,191.3 577.5,191.3 577.7,190.1 578.0,190.5 578.2,198.4 578.5,199.9 578.7,210.7 579.0,198.2 579.2,200.7 579.5,221.7 579.7,214.6 580.0,240.3 580.2,223.8 580.5,234.4 580.7,221.4 581.0,234.8 581.2,240.1 581.5,251.6 581.7,257.4 582.0,252.8 582.2,259.3 582.5,261.1 582.7,271.3 583.0,262.0 583.2,260.0 583.5,262.5 583.7,266.3 584.0,254.1 584.2,261.2 584.5,269.4 584.7,266.9 585.0,255.7 585.2,245.0 585.5,253.6 585.7,252.9 586.0,249.2 586.2,234.0 586.5,230.7 586.7,237.0 587.0,219.4 587.2,210.0 587.5,215.8 587.7,198.6 588.0,214.4 588.2,206.6 588.5,193.5 588.7,204.4 589.0,206.7 589.2,197.4 589.5,196.3 589.7,205.3 590.0,209.2 590.2,216.7 590.5,224.3 590.7,210.8 591.0,220.1 591.2,220.3 591.5,232.0 591.7,218.0 592.0,222.5 592.2,237.1 592.5,252.3 592.7,252.9 593.0,256.2 593.2,257.6 593.5,269.1 593.7,259.5 594.0,262.3 594.2,279.1 594.5,269.8 594.7,271.1 595.0,273.7 595.2,262.2 595.5,266.3 595.7,254.2 596.0,255.4 596.2,250.0 596.5,258.9 596.7,262.9 597.0,244.0 597.2,225.2 597.5,222.0 597.7,237.4 598.0,215.4 598.2,211.5 598.5,208.5 598.7,195.9 599.0,219.0 599.2,188.3 599.5,191.9 599.7,183.5 600.0,183.3 600.2,192.9 600.5,187.3 600.7,217.9 601.0,194.5 601.2,185.4 601.5,213.0 601.7,202.6 602.0,221.9 602.2,207.6 602.5,215.2 602.7,214.6 603.0,223.8 603.2,218.6 603.5,228.7 603.7,226.4 604.0,248.8 604.2,254.0 604.5,249.5 604.7,276.8 605.0,263.8 605.2,251.8 605.5,254.1 605.7,266.9 605.9,285.3 606.2,268.8 606.4,276.9 606.7,264.5 606.9,262.1 607.2,255.8 607.4,274.1 607.7,256.4 607.9,259.5 608.2,259.2 608.4,256.1 608.7,249.8 608.9,251.4 609.2,231.2 609.4,211.4 609.7,230.4 609.9,210.8 610.2,219.4 610.4,199.8 610.7,218.7 610.9,222.7 611.2,219.3 611.4,219.3 611.7,191.7 611.9,191.1 612.2,192.5 612.4,202.1 612.7,216.7 612.9,224.0 613.2,197.5 613.4,214.6 613.7,207.4 613.9,200.5 614.2,234.3 614.4,213.0 614.7,234.4 614.9,240.6 615.2,242.1 615.4,254.7 615.7,272.8 615.9,258.0 616.2,250.7 616.4,260.8 616.7,275.8 616.9,241.6 617.2,256.9 617.4,241.1 617.7,278.6 617.9,253.1 618.2,258.7 618.4,274.8 618.7,257.6 618.9,253.9 619.2,238.3 619.4,243.5 619.7,255.7 619.9,229.8 620.2,223.2 620.4,228.0 620.7,213.9 620.9,199.6 621.2,214.8 621.4,216.1 621.7,198.7 621.9,193.1 622.2,191.0 622.4,176.7 622.7,195.5 622.9,193.3 623.2,177.1 623.4,188.0 623.7,171.4 623.9,189.7 624.2,187.5 624.4,188.9 624.7,195.4 624.9,232.1 625.2,227.5 625.4,219.5 625.7,196.2 625.9,245.2 626.2,223.2 626.4,257.6 626.7,261.3 626.9,237.0 627.2,244.7 627.4,257.4 627.7,271.6 627.9,253.3 628.2,259.6 628.4,271.9 628.7,248.8 628.9,273.8 629.2,274.5 629.4,271.3 629.7,278.1 629.9,256.6 630.2,262.0 630.4,254.9 630.7,254.3 630.9,254.7 631.2,229.6 631.4,244.0 631.7,250.5 631.9,261.3 632.2,224.1 632.4,223.3 632.7,232.2 632.9,233.0 633.2,194.9 633.4,199.6 633.7,208.0 633.9,197.9 634.2,191.1 634.4,197.3 634.7,212.9 634.9,219.7 635.2,207.3 635.4,218.6 635.7,215.5 635.9,190.8 636.2,227.0 636.4,218.5 636.7,240.6 636.9,243.9 637.1,252.9 637.4,215.0 637.6,262.7 637.9,234.3 638.1,263.4 638.4,220.9 638.6,246.8 638.9,237.2 639.1,256.8 639.4,244.0 639.6,272.7 639.9,253.9 640.1,254.8 640.4,271.6 640.6,234.9 640.9,262.8 641.1,247.7 641.4,267.0 641.6,223.6 641.9,274.8 642.1,242.0 642.4,213.1 642.6,252.5 642.9,238.6 643.1,200.7 643.4,218.9 643.6,213.3 643.9,234.2 644.1,202.6 644.4,198.4 644.6,226.2 644.9,210.5 645.1,214.7 645.4,222.3 645.6,227.9 645.9,188.1 646.1,177.7 646.4,225.5 646.6,178.1 646.9,211.5 647.1,186.9 647.4,207.3 647.6,209.7 647.9,187.6 648.1,247.6 648.4,251.7 648.6,226.3 648.9,194.3 649.1,274.6 649.4,207.9 649.6,216.3 649.9,256.8 650.1,251.5 650.4,250.3 650.6,250.6 650.9,240.1 651.1,265.2 651.4,281.9 651.6,227.7 651.9,240.1 652.1,270.1 652.4,281.9"/>
<rect x="418.5" y="141.5" width="234.0" height="182.0" fill="none" stroke="#000" stroke-width="1.1"/>
<line x1="418.5" y1="323.5" x2="418.5" y2="328.1" stroke="#000" stroke-width="1.1"/>
<text x="408.46" y="341.80" font-size="13.0" fill="#000" textLength="19.39" lengthAdjust="spacingAndGlyphs">0.0</text>
<line x1="457.5" y1="323.5" x2="457.5" y2="328.1" stroke="#000" stroke-width="1.1"/>
<text x="447.29" y="341.80" font-size="13.0" fill="#000" textLength="19.60" lengthAdjust="spacingAndGlyphs">2.5</text>
<line x1="496.5" y1="323.5" x2="496.5" y2="328.1" stroke="#000" stroke-width="1.1"/>
<text x="486.44" y="341.80" font-size="13.0" fill="#000" textLength="19.40" lengthAdjust="spacingAndGlyphs">5.0</text>
<line x1="535.5" y1="323.5" x2="535.5" y2="328.1" stroke="#000" stroke-width="1.1"/>
<text x="525.28" y="341.80" font-size="13.0" fill="#000" textLength="19.61" lengthAdjust="spacingAndGlyphs">7.5</text>
<line x1="574.5" y1="323.5" x2="574.5" y2="328.1" stroke="#000" stroke-width="1.1"/>
<text x="560.21" y="341.80" font-size="13.0" fill="#000" textLength="27.35" lengthAdjust="spacingAndGlyphs">10.0</text>
<line x1="613.5" y1="323.5" x2="613.5" y2="328.1" stroke="#000" stroke-width="1.1"/>
<text x="599.21" y="341.80" font-size="13.0" fill="#000" textLength="27.39" lengthAdjust="spacingAndGlyphs">12.5</text>
<line x1="652.5" y1="323.5" x2="652.5" y2="328.1" stroke="#000" stroke-width="1.1"/>
<text x="638.21" y="341.80" font-size="13.0" fill="#000" textLength="27.35" lengthAdjust="spacingAndGlyphs">15.0</text>
<line x1="413.9" y1="170.5" x2="418.5" y2="170.5" stroke="#000" stroke-width="1.1"/>
<text x="388.76" y="174.98" font-size="13.0" fill="#000" textLength="19.24" lengthAdjust="spacingAndGlyphs">0.4</text>
<line x1="413.9" y1="202.6" x2="418.5" y2="202.6" stroke="#000" stroke-width="1.1"/>
<text x="388.75" y="207.12" font-size="13.0" fill="#000" textLength="19.55" lengthAdjust="spacingAndGlyphs">0.2</text>
<line x1="413.9" y1="234.8" x2="418.5" y2="234.8" stroke="#000" stroke-width="1.1"/>
<text x="388.76" y="239.27" font-size="13.0" fill="#000" textLength="19.39" lengthAdjust="spacingAndGlyphs">0.0</text>
<line x1="413.9" y1="266.9" x2="418.5" y2="266.9" stroke="#000" stroke-width="1.1"/>
<text x="378.41" y="271.41" font-size="13.0" fill="#000" textLength="29.95" lengthAdjust="spacingAndGlyphs">−0.2</text>
<line x1="413.9" y1="299.1" x2="418.5" y2="299.1" stroke="#000" stroke-width="1.1"/>
<text x="378.42" y="303.55" font-size="13.0" fill="#000" textLength="29.62" lengthAdjust="spacingAndGlyphs">−0.4</text>
<text x="505.33" y="362.90" font-size="13.0" fill="#000" textLength="60.46" lengthAdjust="spacingAndGlyphs">Time (<tspan font-style="italic">μs</tspan>)</text>
<text transform="translate(367.70,269.00) rotate(-90)" x="-0.03" y="0" font-size="13.0" fill="#000" textLength="73.06" lengthAdjust="spacingAndGlyphs">Asymmetry</text>
<text x="462.16" y="132.70" font-size="16.4" fill="#000" textLength="145.78" lengthAdjust="spacingAndGlyphs">MUSR 62260 bkwd</text>
<rect x="560.5" y="145.5" width="87" height="15.8" rx="2" fill="#fff" fill-opacity="0.8" stroke="#d4d4d4" stroke-width="1"/>
<line x1="562.1" y1="152.8" x2="583.0" y2="152.8" stroke="#1f77b4" stroke-width="2.1"/>
<text x="590.03" y="155.70" font-size="9.4" fill="#000" textLength="53.63" lengthAdjust="spacingAndGlyphs">MUSR62260</text>
<clipPath id="c3"><rect x="97.5" y="401.5" width="234.0" height="183.0"/></clipPath>
<polyline clip-path="url(#c3)" fill="none" stroke="#1f77b4" stroke-width="1.85" stroke-linejoin="round" points="98.7,465.7 99.0,463.7 99.2,460.5 99.5,460.2 99.7,457.5 100.0,457.4 100.2,458.8 100.5,458.7 100.7,460.9 101.0,464.7 101.2,465.6 101.5,471.3 101.7,473.7 102.0,478.3 102.2,485.5 102.5,488.5 102.7,494.7 103.0,500.3 103.2,507.0 103.5,512.2 103.7,517.0 104.0,520.6 104.2,524.4 104.5,529.0 104.7,530.8 105.0,534.7 105.2,535.6 105.5,537.6 105.7,535.4 106.0,536.3 106.2,534.9 106.5,532.2 106.7,530.3 107.0,526.1 107.2,523.8 107.5,517.1 107.7,512.9 108.0,508.1 108.2,502.9 108.5,496.2 108.7,493.2 109.0,485.5 109.2,480.8 109.5,476.1 109.7,472.4 110.0,467.7 110.2,465.2 110.5,461.6 110.7,458.2 111.0,456.9 111.2,456.8 111.5,456.9 111.7,457.5 112.0,458.6 112.2,459.9 112.5,465.1 112.7,468.1 113.0,471.4 113.2,475.1 113.5,481.7 113.7,487.5 114.0,492.6 114.2,498.2 114.5,503.2 114.7,507.0 115.0,513.7 115.2,519.4 115.5,523.5 115.7,527.5 116.0,531.6 116.2,533.7 116.5,536.5 116.7,535.6 117.0,538.9 117.2,537.6 117.5,537.2 117.7,535.8 118.0,531.9 118.2,531.0 118.5,525.0 118.7,521.4 119.0,516.3 119.2,513.5 119.5,507.0 119.7,501.2 120.0,494.8 120.2,490.9 120.5,485.8 120.7,478.8 121.0,473.7 121.2,469.5 121.5,467.4 121.7,462.7 122.0,460.8 122.2,458.8 122.5,456.3 122.7,455.9 123.0,456.5 123.2,456.4 123.5,459.7 123.7,461.5 124.0,465.4 124.2,467.4 124.5,471.6 124.7,479.0 125.0,483.3 125.2,488.2 125.5,492.9 125.7,499.5 126.0,505.9 126.2,510.9 126.5,513.3 126.7,519.0 127.0,522.5 127.2,529.2 127.5,529.0 127.7,531.5 128.0,535.6 128.2,536.0 128.5,536.0 128.7,537.5 128.9,534.9 129.2,532.9 129.4,529.9 129.7,528.0 129.9,522.3 130.2,518.7 130.4,515.7 130.7,508.2 130.9,501.9 131.2,498.2 131.4,491.3 131.7,487.7 131.9,481.7 132.2,476.9 132.4,472.3 132.7,468.7 132.9,464.3 133.2,462.4 133.4,457.7 133.7,456.6 133.9,457.8 134.2,457.3 134.4,458.4 134.7,458.6 134.9,460.0 135.2,461.9 135.4,467.4 135.7,471.7 135.9,475.4 136.2,479.4 136.4,485.1 136.7,490.8 136.9,497.9 137.2,503.3 137.4,505.2 137.7,511.9 137.9,515.5 138.2,520.8 138.4,523.9 138.7,530.1 138.9,531.9 139.2,535.4 139.4,533.4 139.7,538.0 139.9,535.4 140.2,535.9 140.4,535.1 140.7,529.8 140.9,529.3 141.2,525.8 141.4,519.4 141.7,516.1 141.9,512.6 142.2,508.2 142.4,501.9 142.7,497.2 142.9,488.2 143.2,485.7 143.4,477.1 143.7,474.5 143.9,469.8 144.2,465.3 144.4,463.8 144.7,459.1 144.9,458.0 145.2,456.1 145.4,457.9 145.7,454.0 145.9,458.9 146.2,460.7 146.4,460.0 146.7,463.1 146.9,467.3 147.2,472.9 147.4,475.1 147.7,482.6 147.9,484.9 148.2,493.9 148.4,499.0 148.7,505.8 148.9,509.7 149.2,514.0 149.4,517.0 149.7,522.0 149.9,527.2 150.2,529.8 150.4,533.6 150.7,534.8 150.9,538.2 151.2,529.6 151.4,535.8 151.7,535.9 151.9,534.8 152.2,528.2 152.4,527.6 152.7,523.5 152.9,519.9 153.2,515.5 153.4,507.7 153.7,506.7 153.9,499.0 154.2,493.8 154.4,488.3 154.7,484.5 154.9,476.2 155.2,471.0 155.4,470.6 155.7,467.1 155.9,461.3 156.2,461.1 156.4,456.0 156.7,457.1 156.9,455.6 157.2,459.4 157.4,459.1 157.7,458.5 157.9,464.6 158.2,464.7 158.4,472.5 158.7,475.8 158.9,478.5 159.2,485.1 159.4,489.0 159.7,496.0 159.9,503.9 160.1,505.3 160.4,512.8 160.6,515.4 160.9,518.8 161.1,523.5 161.4,527.4 161.6,531.0 161.9,533.0 162.1,539.7 162.4,533.9 162.6,537.4 162.9,536.3 163.1,536.9 163.4,534.4 163.6,531.0 163.9,528.9 164.1,519.4 164.4,517.6 164.6,512.1 164.9,509.9 165.1,501.2 165.4,494.6 165.6,489.7 165.9,486.9 166.1,483.5 166.4,474.4 166.6,473.2 166.9,467.6 167.1,461.6 167.4,458.2 167.6,456.4 167.9,462.7 168.1,458.0 168.4,460.0 168.6,460.9 168.9,458.0 169.1,460.4 169.4,463.9 169.6,469.8 169.9,475.3 170.1,478.0 170.4,484.7 170.6,486.1 170.9,490.8 171.1,494.6 171.4,502.6 171.6,505.3 171.9,510.3 172.1,519.3 172.4,522.6 172.6,528.0 172.9,526.4 173.1,537.6 173.4,532.8 173.6,535.6 173.9,535.6 174.1,536.5 174.4,539.5 174.6,531.1 174.9,533.8 175.1,528.3 175.4,525.6 175.6,516.6 175.9,514.4 176.1,507.2 176.4,505.9 176.6,503.5 176.9,494.1 177.1,492.5 177.4,481.0 177.6,481.3 177.9,475.9 178.1,471.4 178.4,468.7 178.6,460.7 178.9,461.2 179.1,459.8 179.4,457.7 179.6,456.1 179.9,455.6 180.1,460.6 180.4,464.5 180.6,468.0 180.9,471.1 181.1,470.6 181.4,474.7 181.6,476.7 181.9,482.3 182.1,491.6 182.4,498.9 182.6,504.5 182.9,506.1 183.1,514.8 183.4,516.6 183.6,519.0 183.9,524.4 184.1,527.8 184.4,528.3 184.6,532.6 184.9,531.9 185.1,532.0 185.4,536.1 185.6,531.6 185.9,536.6 186.1,533.9 186.4,529.2 186.6,522.0 186.9,518.5 187.1,514.3 187.4,508.8 187.6,509.3 187.9,498.7 188.1,496.3 188.4,488.3 188.6,485.5 188.9,476.8 189.1,475.3 189.4,469.8 189.6,467.5 189.9,466.0 190.1,459.5 190.4,457.3 190.6,457.0 190.9,452.5 191.1,460.6 191.3,461.4 191.6,461.7 191.8,464.6 192.1,462.0 192.3,463.1 192.6,467.1 192.8,474.6 193.1,480.3 193.3,484.6 193.6,494.9 193.8,494.3 194.1,505.8 194.3,505.6 194.6,512.7 194.8,518.8 195.1,522.5 195.3,529.8 195.6,524.7 195.8,527.7 196.1,538.0 196.3,530.4 196.6,537.9 196.8,539.8 197.1,533.1 197.3,534.9 197.6,532.1 197.8,523.2 198.1,521.9 198.3,521.6 198.6,515.6 198.8,513.8 199.1,516.2 199.3,489.2 199.6,494.2 199.8,486.9 200.1,481.6 200.3,485.0 200.6,480.7 200.8,476.8 201.1,467.9 201.3,464.0 201.6,467.7 201.8,462.4 202.1,457.9 202.3,464.4 202.6,460.1 202.8,463.1 203.1,466.3 203.3,467.0 203.6,466.2 203.8,474.9 204.1,470.8 204.3,481.1 204.6,490.2 204.8,494.5 205.1,490.4 205.3,499.2 205.6,504.5 205.8,513.1 206.1,518.3 206.3,520.2 206.6,521.5 206.8,531.7 207.1,534.3 207.3,536.9 207.6,532.9 207.8,538.8 208.1,537.7 208.3,535.1 208.6,530.0 208.8,534.4 209.1,535.3 209.3,528.1 209.6,530.8 209.8,507.5 210.1,508.7 210.3,508.1 210.6,503.3 210.8,501.1 211.1,487.0 211.3,484.4 211.6,480.7 211.8,478.6 212.1,473.1 212.3,468.3 212.6,464.9 212.8,466.3 213.1,455.9 213.3,455.7 213.6,459.8 213.8,457.5 214.1,459.5 214.3,457.8 214.6,461.5 214.8,464.7 215.1,471.8 215.3,471.5 215.6,470.3 215.8,482.7 216.1,491.3 216.3,490.9 216.6,491.2 216.8,507.1 217.1,504.6 217.3,512.3 217.6,515.8 217.8,512.9 218.1,527.3 218.3,531.3 218.6,531.8 218.8,538.7 219.1,528.7 219.3,541.0 219.6,536.3 219.8,529.7 220.1,537.7 220.3,534.0 220.6,521.9 220.8,526.5 221.1,519.4 221.3,521.2 221.6,510.4 221.8,507.5 222.1,501.5 222.3,495.6 222.5,493.3 222.8,481.8 223.0,477.8 223.3,480.7 223.5,469.1 223.8,476.1 224.0,466.8 224.3,463.2 224.5,458.8 224.8,470.6 225.0,456.4 225.3,461.6 225.5,461.6 225.8,466.1 226.0,469.1 226.3,466.0 226.5,475.9 226.8,479.0 227.0,472.8 227.3,481.9 227.5,493.3 227.8,494.6 228.0,500.5 228.3,505.3 228.5,519.8 228.8,519.0 229.0,516.8 229.3,520.5 229.5,533.2 229.8,525.2 230.0,537.0 230.3,539.3 230.5,527.8 230.8,540.6 231.0,537.7 231.3,533.4 231.5,527.1 231.8,525.5 232.0,527.2 232.3,521.2 232.5,525.2 232.8,511.1 233.0,510.1 233.3,500.4 233.5,504.2 233.8,489.4 234.0,483.4 234.3,485.1 234.5,475.0 234.8,480.7 235.0,465.8 235.3,473.3 235.5,463.2 235.8,468.1 236.0,458.0 236.3,470.9 236.5,456.0 236.8,464.3 237.0,452.4 237.3,465.1 237.5,460.8 237.8,469.2 238.0,467.8 238.3,474.2 238.5,469.3 238.8,483.2 239.0,486.4 239.3,492.0 239.5,500.4 239.8,507.1 240.0,519.7 240.3,516.5 240.5,512.4 240.8,520.7 241.0,519.3 241.3,527.2 241.5,527.9 241.8,525.7 242.0,526.4 242.3,536.2 242.5,527.5 242.8,524.1 243.0,539.3 243.3,528.1 243.5,521.1 243.8,522.2 244.0,519.3 244.3,512.2 244.5,504.3 244.8,498.2 245.0,494.2 245.3,493.1 245.5,489.8 245.8,468.0 246.0,469.6 246.3,464.8 246.5,459.5 246.8,459.3 247.0,465.2 247.3,445.3 247.5,458.3 247.8,450.7 248.0,460.1 248.3,454.1 248.5,464.8 248.8,452.4 249.0,454.1 249.3,468.3 249.5,476.4 249.8,469.6 250.0,484.5 250.3,490.5 250.5,495.6 250.8,496.7 251.0,503.3 251.3,507.0 251.5,498.6 251.8,527.1 252.0,519.6 252.3,535.0 252.5,533.2 252.8,527.8 253.0,523.5 253.3,529.8 253.5,543.6 253.7,529.2 254.0,528.8 254.2,531.7 254.5,509.2 254.7,536.3 255.0,524.8 255.2,517.8 255.5,502.2 255.7,518.1 256.0,494.8 256.2,488.7 256.5,501.0 256.7,479.3 257.0,486.6 257.2,466.3 257.5,462.9 257.7,463.3 258.0,467.9 258.2,451.2 258.5,448.8 258.7,442.5 259.0,459.0 259.2,462.4 259.5,448.5 259.7,458.5 260.0,454.4 260.2,469.0 260.5,459.7 260.7,462.5 261.0,474.9 261.2,469.8 261.5,473.7 261.7,479.4 262.0,502.1 262.2,493.9 262.5,501.1 262.7,510.8 263.0,511.4 263.2,520.5 263.5,526.3 263.7,516.3 264.0,538.3 264.2,542.1 264.5,527.5 264.7,539.1 265.0,523.4 265.2,520.1 265.5,529.1 265.7,526.6 266.0,536.5 266.2,522.2 266.5,519.9 266.7,522.3 267.0,511.9 267.2,495.0 267.5,491.4 267.7,491.1 268.0,505.8 268.2,484.7 268.5,471.1 268.7,484.9 269.0,471.1 269.2,459.2 269.5,465.8 269.7,466.6 270.0,458.8 270.2,461.6 270.5,451.3 270.7,475.9 271.0,465.0 271.2,460.1 271.5,461.8 271.7,482.8 272.0,479.1 272.2,470.7 272.5,491.4 272.7,487.7 273.0,492.6 273.2,482.7 273.5,508.3 273.7,490.3 274.0,510.3 274.2,513.2 274.5,504.3 274.7,507.6 275.0,521.5 275.2,514.0 275.5,548.7 275.7,518.1 276.0,534.4 276.2,520.7 276.5,519.4 276.7,518.4 277.0,530.4 277.2,540.1 277.5,530.5 277.7,510.5 278.0,517.4 278.2,525.1 278.5,498.3 278.7,510.1 279.0,509.4 279.2,487.0 279.5,478.2 279.7,476.8 280.0,464.0 280.2,487.9 280.5,479.2 280.7,463.8 281.0,446.6 281.2,453.8 281.5,463.5 281.7,442.1 282.0,471.6 282.2,441.9 282.5,459.6 282.7,452.4 283.0,454.3 283.2,473.7 283.5,469.0 283.7,458.5 284.0,463.4 284.2,468.8 284.5,474.6 284.7,502.4 284.9,488.2 285.2,500.8 285.4,506.2 285.7,535.2 285.9,513.0 286.2,543.5 286.4,515.6 286.7,530.5 286.9,546.6 287.2,553.4 287.4,548.3 287.7,553.7 287.9,537.9 288.2,553.3 288.4,538.6 288.7,553.0 288.9,516.6 289.2,524.5 289.4,511.9 289.7,498.5 289.9,506.2 290.2,486.9 290.4,493.7 290.7,496.2 290.9,496.6 291.2,498.4 291.4,469.6 291.7,466.7 291.9,448.0 292.2,448.1 292.4,465.7 292.7,459.4 292.9,471.2 293.2,439.2 293.4,457.3 293.7,439.2 293.9,442.2 294.2,454.6 294.4,460.9 294.7,476.6 294.9,468.1 295.2,481.0 295.4,485.5 295.7,486.5 295.9,505.8 296.2,484.6 296.4,507.7 296.7,521.7 296.9,500.7 297.2,485.5 297.4,535.7 297.7,542.8 297.9,510.4 298.2,539.6 298.4,508.3 298.7,509.6 298.9,549.4 299.2,549.2 299.4,533.0 299.7,507.4 299.9,545.4 300.2,539.2 300.4,525.1 300.7,535.6 300.9,490.8 301.2,490.3 301.4,503.5 301.7,475.5 301.9,472.9 302.2,506.6 302.4,500.5 302.7,461.0 302.9,472.9 303.2,469.5 303.4,484.8 303.7,451.0 303.9,438.0 304.2,474.8 304.4,459.1 304.7,471.3 304.9,465.5 305.2,477.6 305.4,452.3 305.7,442.1 305.9,463.6 306.2,444.5 306.4,457.8 306.7,497.3 306.9,460.6 307.2,484.4 307.4,489.6 307.7,517.5 307.9,485.7 308.2,519.5 308.4,515.1 308.7,519.1 308.9,538.9 309.2,523.8 309.4,512.1 309.7,532.8 309.9,527.5 310.2,519.3 310.4,540.8 310.7,549.3 310.9,507.2 311.2,535.9 311.4,521.3 311.7,521.4 311.9,526.0 312.2,513.5 312.4,534.3 312.7,497.3 312.9,507.5 313.2,479.2 313.4,465.5 313.7,496.1 313.9,473.4 314.2,450.5 314.4,495.8 314.7,468.1 314.9,459.3 315.2,464.7 315.4,474.2 315.7,475.8 315.9,481.6 316.1,435.3 316.4,445.2 316.6,460.0 316.9,452.2 317.1,458.2 317.4,439.5 317.6,458.0 317.9,472.7 318.1,492.4 318.4,485.2 318.6,467.1 318.9,502.1 319.1,481.3 319.4,498.8 319.6,518.0 319.9,511.5 320.1,543.0 320.4,537.6 320.6,495.6 320.9,521.9 321.1,537.4 321.4,549.9 321.6,518.2 321.9,533.8 322.1,525.8 322.4,525.0 322.6,538.0 322.9,522.1 323.1,508.2 323.4,531.2 323.6,533.3 323.9,478.2 324.1,530.5 324.4,471.1 324.6,495.8 324.9,484.7 325.1,497.8 325.4,468.6 325.6,473.4 325.9,497.7 326.1,460.4 326.4,436.3 326.6,466.3 326.9,442.1 327.1,472.3 327.4,439.8 327.6,479.2 327.9,433.4 328.1,464.3 328.4,433.4 328.6,447.9 328.9,458.5 329.1,436.7 329.4,494.5 329.6,494.9 329.9,467.8 330.1,467.3 330.4,476.1 330.6,507.3 330.9,533.5 331.1,518.9 331.4,542.4"/>
<rect x="97.5" y="401.5" width="234.0" height="183.0" fill="none" stroke="#000" stroke-width="1.1"/>
<line x1="97.5" y1="584.5" x2="97.5" y2="589.1" stroke="#000" stroke-width="1.1"/>
<text x="87.46" y="602.80" font-size="13.0" fill="#000" textLength="19.39" lengthAdjust="spacingAndGlyphs">0.0</text>
<line x1="136.5" y1="584.5" x2="136.5" y2="589.1" stroke="#000" stroke-width="1.1"/>
<text x="126.29" y="602.80" font-size="13.0" fill="#000" textLength="19.60" lengthAdjust="spacingAndGlyphs">2.5</text>
<line x1="175.5" y1="584.5" x2="175.5" y2="589.1" stroke="#000" stroke-width="1.1"/>
<text x="165.44" y="602.80" font-size="13.0" fill="#000" textLength="19.40" lengthAdjust="spacingAndGlyphs">5.0</text>
<line x1="214.5" y1="584.5" x2="214.5" y2="589.1" stroke="#000" stroke-width="1.1"/>
<text x="204.28" y="602.80" font-size="13.0" fill="#000" textLength="19.61" lengthAdjust="spacingAndGlyphs">7.5</text>
<line x1="253.5" y1="584.5" x2="253.5" y2="589.1" stroke="#000" stroke-width="1.1"/>
<text x="239.21" y="602.80" font-size="13.0" fill="#000" textLength="27.35" lengthAdjust="spacingAndGlyphs">10.0</text>
<line x1="292.5" y1="584.5" x2="292.5" y2="589.1" stroke="#000" stroke-width="1.1"/>
<text x="278.21" y="602.80" font-size="13.0" fill="#000" textLength="27.39" lengthAdjust="spacingAndGlyphs">12.5</text>
<line x1="331.5" y1="584.5" x2="331.5" y2="589.1" stroke="#000" stroke-width="1.1"/>
<text x="317.21" y="602.80" font-size="13.0" fill="#000" textLength="27.35" lengthAdjust="spacingAndGlyphs">15.0</text>
<line x1="92.9" y1="430.6" x2="97.5" y2="430.6" stroke="#000" stroke-width="1.1"/>
<text x="67.76" y="435.14" font-size="13.0" fill="#000" textLength="19.24" lengthAdjust="spacingAndGlyphs">0.4</text>
<line x1="92.9" y1="463.0" x2="97.5" y2="463.0" stroke="#000" stroke-width="1.1"/>
<text x="67.75" y="467.46" font-size="13.0" fill="#000" textLength="19.55" lengthAdjust="spacingAndGlyphs">0.2</text>
<line x1="92.9" y1="495.3" x2="97.5" y2="495.3" stroke="#000" stroke-width="1.1"/>
<text x="67.76" y="499.78" font-size="13.0" fill="#000" textLength="19.39" lengthAdjust="spacingAndGlyphs">0.0</text>
<line x1="92.9" y1="527.6" x2="97.5" y2="527.6" stroke="#000" stroke-width="1.1"/>
<text x="57.41" y="532.10" font-size="13.0" fill="#000" textLength="29.95" lengthAdjust="spacingAndGlyphs">−0.2</text>
<line x1="92.9" y1="559.9" x2="97.5" y2="559.9" stroke="#000" stroke-width="1.1"/>
<text x="57.42" y="564.42" font-size="13.0" fill="#000" textLength="29.62" lengthAdjust="spacingAndGlyphs">−0.4</text>
<text x="184.33" y="623.90" font-size="13.0" fill="#000" textLength="60.46" lengthAdjust="spacingAndGlyphs">Time (<tspan font-style="italic">μs</tspan>)</text>
<text transform="translate(46.70,529.50) rotate(-90)" x="-0.03" y="0" font-size="13.0" fill="#000" textLength="73.06" lengthAdjust="spacingAndGlyphs">Asymmetry</text>
<text x="133.74" y="392.70" font-size="16.4" fill="#000" textLength="160.65" lengthAdjust="spacingAndGlyphs">MUSR 62260 bottom</text>
<rect x="239.5" y="405.5" width="87" height="15.8" rx="2" fill="#fff" fill-opacity="0.8" stroke="#d4d4d4" stroke-width="1"/>
<line x1="241.1" y1="412.8" x2="262.0" y2="412.8" stroke="#1f77b4" stroke-width="2.1"/>
<text x="269.03" y="415.70" font-size="9.4" fill="#000" textLength="53.63" lengthAdjust="spacingAndGlyphs">MUSR62260</text>
<clipPath id="c4"><rect x="418.5" y="401.5" width="234.0" height="183.0"/></clipPath>
<polyline clip-path="url(#c4)" fill="none" stroke="#1f77b4" stroke-width="1.85" stroke-linejoin="round" points="419.7,526.9 420.0,523.4 420.2,517.6 420.5,514.0 420.7,508.7 421.0,504.0 421.2,497.7 421.5,491.9 421.7,486.8 422.0,481.6 422.2,477.0 422.5,471.8 422.7,467.3 423.0,465.5 423.2,460.9 423.5,460.4 423.7,457.2 424.0,458.2 424.2,457.0 424.5,458.4 424.7,460.0 425.0,461.5 425.2,465.0 425.5,468.1 425.7,471.4 426.0,476.5 426.2,480.6 426.5,486.1 426.7,491.4 427.0,497.7 427.2,504.0 427.5,507.6 427.7,513.2 428.0,518.8 428.2,522.8 428.5,527.7 428.7,529.0 429.0,532.3 429.2,535.0 429.5,534.7 429.7,535.8 430.0,536.3 430.2,536.6 430.5,532.6 430.7,531.2 431.0,528.1 431.2,526.2 431.5,521.2 431.7,517.2 432.0,512.5 432.2,506.6 432.5,500.9 432.7,495.6 433.0,490.7 433.2,484.7 433.5,479.2 433.7,475.6 434.0,472.6 434.2,468.9 434.5,465.7 434.7,461.9 435.0,460.1 435.2,458.3 435.5,457.0 435.7,459.5 436.0,460.2 436.2,461.8 436.5,462.6 436.7,466.9 437.0,471.8 437.2,475.1 437.5,478.3 437.7,483.7 438.0,489.6 438.2,495.2 438.5,499.2 438.7,504.9 439.0,511.0 439.2,515.8 439.5,519.7 439.7,524.0 440.0,528.2 440.2,531.0 440.5,534.1 440.7,536.6 441.0,536.4 441.2,537.5 441.5,534.8 441.7,533.8 442.0,532.9 442.2,528.6 442.5,526.2 442.7,522.1 443.0,517.9 443.2,513.7 443.5,507.8 443.7,503.5 444.0,497.2 444.2,493.1 444.5,488.0 444.7,482.0 445.0,475.3 445.2,473.5 445.5,467.2 445.7,465.2 446.0,462.4 446.2,457.8 446.5,459.0 446.7,456.2 447.0,457.0 447.2,459.1 447.5,458.7 447.7,459.4 448.0,462.4 448.2,466.0 448.5,471.2 448.7,474.8 449.0,479.3 449.2,486.3 449.5,490.8 449.7,495.5 449.9,500.8 450.2,508.1 450.4,512.4 450.7,516.9 450.9,520.8 451.2,526.5 451.4,530.8 451.7,532.4 451.9,535.8 452.2,536.0 452.4,534.8 452.7,536.4 452.9,535.9 453.2,532.4 453.4,532.6 453.7,529.0 453.9,526.4 454.2,522.5 454.4,514.6 454.7,511.1 454.9,507.3 455.2,501.0 455.4,494.7 455.7,488.2 455.9,482.8 456.2,479.6 456.4,476.6 456.7,469.6 456.9,468.0 457.2,461.7 457.4,459.3 457.7,457.5 457.9,458.8 458.2,456.8 458.4,456.4 458.7,459.4 458.9,459.1 459.2,460.3 459.4,465.9 459.7,469.6 459.9,472.0 460.2,476.6 460.4,480.7 460.7,486.3 460.9,491.3 461.2,496.9 461.4,504.4 461.7,510.7 461.9,512.8 462.2,521.1 462.4,522.2 462.7,525.8 462.9,531.2 463.2,534.8 463.4,532.6 463.7,537.3 463.9,537.2 464.2,534.7 464.4,536.0 464.7,531.3 464.9,528.0 465.2,527.0 465.4,522.4 465.7,523.7 465.9,512.2 466.2,510.4 466.4,501.5 466.7,497.1 466.9,490.6 467.2,485.2 467.4,482.5 467.7,475.3 467.9,470.8 468.2,470.5 468.4,463.1 468.7,460.6 468.9,460.5 469.2,461.2 469.4,456.9 469.7,457.6 469.9,454.8 470.2,458.0 470.4,461.2 470.7,464.7 470.9,465.2 471.2,472.6 471.4,476.6 471.7,479.3 471.9,491.6 472.2,481.6 472.4,493.3 472.7,498.2 472.9,507.7 473.2,513.7 473.4,515.9 473.7,521.0 473.9,527.7 474.2,527.3 474.4,529.4 474.7,535.0 474.9,535.6 475.2,535.4 475.4,535.3 475.7,535.7 475.9,532.9 476.2,530.7 476.4,529.8 476.7,524.4 476.9,521.5 477.2,518.7 477.4,511.9 477.7,503.6 477.9,500.7 478.2,494.0 478.4,490.5 478.7,487.7 478.9,479.5 479.2,475.6 479.4,472.2 479.7,467.9 479.9,461.7 480.2,463.9 480.4,459.2 480.7,459.6 480.9,459.0 481.1,457.0 481.4,456.5 481.6,459.7 481.9,465.0 482.1,468.0 482.4,468.7 482.6,475.5 482.9,476.9 483.1,484.8 483.4,484.5 483.6,495.1 483.9,500.5 484.1,500.5 484.4,507.6 484.6,511.9 484.9,518.5 485.1,520.2 485.4,525.6 485.6,531.6 485.9,531.3 486.1,530.4 486.4,535.0 486.6,536.3 486.9,534.5 487.1,535.3 487.4,533.2 487.6,528.6 487.9,525.5 488.1,525.7 488.4,518.0 488.6,517.2 488.9,511.0 489.1,507.2 489.4,499.6 489.6,492.9 489.9,486.3 490.1,483.3 490.4,476.6 490.6,477.3 490.9,473.2 491.1,466.0 491.4,466.6 491.6,458.2 491.9,459.5 492.1,461.7 492.4,456.4 492.6,459.8 492.9,460.1 493.1,458.7 493.4,463.4 493.6,467.4 493.9,468.2 494.1,478.8 494.4,478.3 494.6,484.6 494.9,489.3 495.1,497.0 495.4,502.2 495.6,503.9 495.9,514.2 496.1,515.4 496.4,524.2 496.6,525.5 496.9,531.8 497.1,533.2 497.4,535.7 497.6,537.2 497.9,535.8 498.1,538.7 498.4,532.3 498.6,535.4 498.9,532.8 499.1,532.7 499.4,526.8 499.6,524.5 499.9,514.0 500.1,509.1 500.4,505.6 500.6,503.4 500.9,499.8 501.1,494.4 501.4,484.3 501.6,476.9 501.9,478.9 502.1,467.3 502.4,470.3 502.6,457.7 502.9,460.4 503.1,462.0 503.4,453.3 503.6,452.5 503.9,459.9 504.1,456.8 504.4,461.0 504.6,459.2 504.9,463.9 505.1,464.6 505.4,473.5 505.6,475.1 505.9,480.3 506.1,483.5 506.4,488.1 506.6,497.7 506.9,501.6 507.1,510.0 507.4,508.2 507.6,518.1 507.9,524.1 508.1,525.8 508.4,525.7 508.6,531.6 508.9,534.8 509.1,537.3 509.4,535.7 509.6,536.4 509.9,530.9 510.1,534.9 510.4,525.9 510.6,527.1 510.9,519.1 511.1,515.0 511.4,514.0 511.6,511.7 511.9,505.5 512.1,503.6 512.3,490.5 512.6,489.2 512.8,480.2 513.1,470.1 513.3,475.3 513.6,468.3 513.8,465.4 514.1,465.4 514.3,462.4 514.6,459.2 514.8,460.0 515.1,461.5 515.3,454.6 515.6,459.0 515.8,458.7 516.1,466.3 516.3,465.2 516.6,469.1 516.8,470.7 517.1,483.9 517.3,473.2 517.6,490.8 517.8,497.1 518.1,499.8 518.3,511.6 518.6,515.6 518.8,511.5 519.1,522.3 519.3,524.4 519.6,527.6 519.8,535.0 520.1,534.6 520.3,531.3 520.6,534.6 520.8,537.7 521.1,538.6 521.3,531.8 521.6,532.9 521.8,526.6 522.1,530.0 522.3,526.4 522.6,520.6 522.8,514.0 523.1,509.9 523.3,503.6 523.6,495.0 523.8,494.0 524.1,484.5 524.3,480.3 524.6,478.2 524.8,476.8 525.1,472.6 525.3,465.1 525.6,465.9 525.8,462.0 526.1,456.8 526.3,454.6 526.6,453.1 526.8,453.5 527.1,454.2 527.3,457.2 527.6,467.3 527.8,462.7 528.1,472.7 528.3,477.4 528.6,480.4 528.8,482.0 529.1,490.5 529.3,496.8 529.6,503.6 529.8,513.7 530.1,518.9 530.3,523.6 530.6,523.8 530.8,529.2 531.1,526.9 531.3,532.8 531.6,530.5 531.8,542.2 532.1,542.3 532.3,539.2 532.6,533.6 532.8,534.3 533.1,541.2 533.3,531.7 533.6,520.4 533.8,520.2 534.1,513.6 534.3,518.3 534.6,502.4 534.8,506.1 535.1,494.6 535.3,497.2 535.6,487.5 535.8,478.1 536.1,471.3 536.3,474.7 536.6,475.5 536.8,459.8 537.1,456.7 537.3,459.6 537.6,453.5 537.8,456.5 538.1,470.6 538.3,465.0 538.6,455.9 538.8,463.4 539.1,473.3 539.3,474.4 539.6,474.2 539.8,481.8 540.1,493.0 540.3,491.4 540.6,499.3 540.8,499.8 541.1,506.5 541.3,515.5 541.6,511.6 541.8,523.0 542.1,525.0 542.3,529.6 542.6,535.2 542.8,537.5 543.1,532.8 543.3,532.9 543.5,540.6 543.8,534.8 544.0,533.8 544.3,532.8 544.5,529.7 544.8,522.8 545.0,518.2 545.3,512.9 545.5,511.3 545.8,515.1 546.0,503.4 546.3,505.0 546.5,486.3 546.8,494.8 547.0,478.2 547.3,479.1 547.5,473.5 547.8,475.4 548.0,468.6 548.3,463.9 548.5,468.8 548.8,458.9 549.0,457.3 549.3,459.9 549.5,455.1 549.8,468.3 550.0,460.3 550.3,458.5 550.5,463.4 550.8,467.7 551.0,480.3 551.3,475.4 551.5,478.5 551.8,492.2 552.0,492.2 552.3,497.8 552.5,503.9 552.8,514.9 553.0,518.1 553.3,512.0 553.5,528.1 553.8,522.6 554.0,530.1 554.3,538.8 554.5,532.8 554.8,532.8 555.0,534.9 555.3,534.2 555.5,537.0 555.8,533.9 556.0,527.7 556.3,530.2 556.5,512.6 556.8,513.8 557.0,515.5 557.3,499.9 557.5,506.5 557.8,496.8 558.0,489.4 558.3,490.4 558.5,473.4 558.8,466.3 559.0,467.4 559.3,465.4 559.5,459.2 559.8,462.1 560.0,451.6 560.3,456.3 560.5,451.7 560.8,458.8 561.0,457.5 561.3,462.4 561.5,458.7 561.8,471.4 562.0,472.0 562.3,467.0 562.5,483.8 562.8,474.8 563.0,489.6 563.3,497.5 563.5,492.8 563.8,508.2 564.0,506.0 564.3,518.5 564.5,523.3 564.8,515.0 565.0,533.0 565.3,532.0 565.5,538.0 565.8,539.8 566.0,538.2 566.3,536.9 566.5,530.2 566.8,530.0 567.0,530.4 567.3,529.7 567.5,537.2 567.8,523.7 568.0,501.9 568.3,512.5 568.5,506.7 568.8,499.0 569.0,501.5 569.3,483.4 569.5,493.3 569.8,490.0 570.0,465.5 570.3,475.0 570.5,465.0 570.8,459.2 571.0,468.2 571.3,453.6 571.5,444.9 571.8,444.9 572.0,458.6 572.3,451.4 572.5,447.8 572.8,446.8 573.0,463.2 573.3,453.0 573.5,475.6 573.8,481.8 574.0,485.7 574.3,485.2 574.5,482.1 574.7,497.2 575.0,502.8 575.2,506.5 575.5,517.7 575.7,511.8 576.0,522.3 576.2,517.3 576.5,538.8 576.7,536.4 577.0,543.7 577.2,526.4 577.5,539.3 577.7,529.7 578.0,524.8 578.2,532.1 578.5,521.0 578.7,518.1 579.0,524.4 579.2,522.8 579.5,527.7 579.7,522.7 580.0,502.6 580.2,503.8 580.5,497.0 580.7,510.5 581.0,479.3 581.2,486.0 581.5,476.5 581.7,455.7 582.0,475.8 582.2,470.3 582.5,468.0 582.7,464.3 583.0,450.2 583.2,449.1 583.5,445.9 583.7,455.8 584.0,453.1 584.2,458.5 584.5,449.9 584.7,477.1 585.0,465.2 585.2,473.7 585.5,477.5 585.7,495.8 586.0,492.8 586.2,485.7 586.5,487.7 586.7,506.7 587.0,509.6 587.2,502.5 587.5,523.9 587.7,535.3 588.0,531.2 588.2,526.3 588.5,530.7 588.7,540.0 589.0,535.8 589.2,524.2 589.5,520.0 589.7,524.9 590.0,523.3 590.2,526.1 590.5,515.0 590.7,515.3 591.0,525.0 591.2,507.8 591.5,506.2 591.7,495.4 592.0,496.7 592.2,488.9 592.5,494.2 592.7,477.8 593.0,485.2 593.2,472.5 593.5,450.6 593.7,450.3 594.0,445.0 594.2,468.0 594.5,442.5 594.7,447.4 595.0,450.9 595.2,463.0 595.5,461.4 595.7,447.0 596.0,464.4 596.2,481.3 596.5,468.7 596.7,465.7 597.0,494.2 597.2,477.7 597.5,492.6 597.7,481.8 598.0,483.3 598.2,490.8 598.5,523.2 598.7,514.9 599.0,525.3 599.2,521.0 599.5,526.8 599.7,509.9 600.0,519.5 600.2,520.2 600.5,529.1 600.7,522.7 601.0,510.2 601.2,537.0 601.5,508.7 601.7,511.1 602.0,518.6 602.2,513.7 602.5,505.0 602.7,500.6 603.0,494.4 603.2,477.5 603.5,500.7 603.7,468.2 604.0,459.4 604.2,465.5 604.5,465.3 604.7,453.6 605.0,472.4 605.2,468.2 605.5,453.7 605.7,440.0 605.9,439.9 606.2,439.9 606.4,469.3 606.7,488.2 606.9,440.0 607.2,442.6 607.4,445.8 607.7,469.5 607.9,480.3 608.2,490.9 608.4,472.5 608.7,501.6 608.9,504.1 609.2,481.7 609.4,500.3 609.7,496.1 609.9,497.9 610.2,518.3 610.4,499.7 610.7,537.5 610.9,515.7 611.2,529.5 611.4,528.7 611.7,508.8 611.9,531.9 612.2,531.7 612.4,524.7 612.7,539.6 612.9,533.5 613.2,513.3 613.4,499.1 613.7,490.8 613.9,511.1 614.2,506.8 614.4,512.9 614.7,502.9 614.9,499.1 615.2,457.2 615.4,457.3 615.7,481.8 615.9,481.9 616.2,470.0 616.4,473.3 616.7,459.4 616.9,451.2 617.2,475.8 617.4,440.9 617.7,440.9 617.9,448.4 618.2,478.8 618.4,458.6 618.7,479.7 618.9,472.8 619.2,491.9 619.4,472.7 619.7,476.5 619.9,469.2 620.2,484.1 620.4,487.6 620.7,498.8 620.9,508.8 621.2,509.7 621.4,511.0 621.7,527.2 621.9,534.7 622.2,524.0 622.4,540.2 622.7,541.7 622.9,537.2 623.2,535.8 623.4,534.4 623.7,532.7 623.9,543.3 624.2,533.1 624.4,545.5 624.7,499.5 624.9,515.2 625.2,512.0 625.4,516.6 625.7,509.8 625.9,509.5 626.2,489.4 626.4,491.6 626.7,461.3 626.9,477.4 627.2,462.8 627.4,486.5 627.7,445.8 627.9,485.6 628.2,457.3 628.4,477.5 628.7,445.2 628.9,480.9 629.2,451.1 629.4,450.5 629.7,487.0 629.9,467.3 630.2,461.3 630.4,486.5 630.7,500.5 630.9,495.9 631.2,462.9 631.4,487.7 631.7,489.0 631.9,483.2 632.2,487.5 632.4,486.5 632.7,497.0 632.9,513.0 633.2,532.2 633.4,543.4 633.7,503.7 633.9,521.5 634.2,506.7 634.4,526.5 634.7,547.0 634.9,539.2 635.2,536.0 635.4,514.8 635.7,502.2 635.9,513.4 636.2,534.8 636.4,489.7 636.7,512.3 636.9,516.7 637.1,502.4 637.4,471.6 637.6,498.4 637.9,480.2 638.1,509.6 638.4,453.7 638.6,487.5 638.9,445.6 639.1,469.4 639.4,488.1 639.6,441.4 639.9,454.1 640.1,453.3 640.4,462.4 640.6,450.8 640.9,444.6 641.1,481.6 641.4,444.1 641.6,457.4 641.9,450.3 642.1,453.9 642.4,457.9 642.6,497.0 642.9,466.3 643.1,477.1 643.4,516.4 643.6,516.3 643.9,520.1 644.1,526.0 644.4,510.7 644.6,515.8 644.9,545.2 645.1,497.4 645.4,538.5 645.6,549.9 645.9,499.7 646.1,499.3 646.4,549.9 646.6,496.5 646.9,495.4 647.1,543.5 647.4,547.1 647.6,535.0 647.9,479.9 648.1,511.8 648.4,498.0 648.6,502.6 648.9,496.5 649.1,504.9 649.4,511.2 649.6,447.4 649.9,504.7 650.1,454.2 650.4,437.3 650.6,437.8 650.9,493.8 651.1,469.8 651.4,448.4 651.6,437.3 651.9,452.5 652.1,493.4 652.4,443.5"/>
<rect x="418.5" y="401.5" width="234.0" height="183.0" fill="none" stroke="#000" stroke-width="1.1"/>
<line x1="418.5" y1="584.5" x2="418.5" y2="589.1" stroke="#000" stroke-width="1.1"/>
<text x="408.46" y="602.80" font-size="13.0" fill="#000" textLength="19.39" lengthAdjust="spacingAndGlyphs">0.0</text>
<line x1="457.5" y1="584.5" x2="457.5" y2="589.1" stroke="#000" stroke-width="1.1"/>
<text x="447.29" y="602.80" font-size="13.0" fill="#000" textLength="19.60" lengthAdjust="spacingAndGlyphs">2.5</text>
<line x1="496.5" y1="584.5" x2="496.5" y2="589.1" stroke="#000" stroke-width="1.1"/>
<text x="486.44" y="602.80" font-size="13.0" fill="#000" textLength="19.40" lengthAdjust="spacingAndGlyphs">5.0</text>
<line x1="535.5" y1="584.5" x2="535.5" y2="589.1" stroke="#000" stroke-width="1.1"/>
<text x="525.28" y="602.80" font-size="13.0" fill="#000" textLength="19.61" lengthAdjust="spacingAndGlyphs">7.5</text>
<line x1="574.5" y1="584.5" x2="574.5" y2="589.1" stroke="#000" stroke-width="1.1"/>
<text x="560.21" y="602.80" font-size="13.0" fill="#000" textLength="27.35" lengthAdjust="spacingAndGlyphs">10.0</text>
<line x1="613.5" y1="584.5" x2="613.5" y2="589.1" stroke="#000" stroke-width="1.1"/>
<text x="599.21" y="602.80" font-size="13.0" fill="#000" textLength="27.39" lengthAdjust="spacingAndGlyphs">12.5</text>
<line x1="652.5" y1="584.5" x2="652.5" y2="589.1" stroke="#000" stroke-width="1.1"/>
<text x="638.21" y="602.80" font-size="13.0" fill="#000" textLength="27.35" lengthAdjust="spacingAndGlyphs">15.0</text>
<line x1="413.9" y1="430.6" x2="418.5" y2="430.6" stroke="#000" stroke-width="1.1"/>
<text x="388.76" y="435.14" font-size="13.0" fill="#000" textLength="19.24" lengthAdjust="spacingAndGlyphs">0.4</text>
<line x1="413.9" y1="463.0" x2="418.5" y2="463.0" stroke="#000" stroke-width="1.1"/>
<text x="388.75" y="467.46" font-size="13.0" fill="#000" textLength="19.55" lengthAdjust="spacingAndGlyphs">0.2</text>
<line x1="413.9" y1="495.3" x2="418.5" y2="495.3" stroke="#000" stroke-width="1.1"/>
<text x="388.76" y="499.78" font-size="13.0" fill="#000" textLength="19.39" lengthAdjust="spacingAndGlyphs">0.0</text>
<line x1="413.9" y1="527.6" x2="418.5" y2="527.6" stroke="#000" stroke-width="1.1"/>
<text x="378.41" y="532.10" font-size="13.0" fill="#000" textLength="29.95" lengthAdjust="spacingAndGlyphs">−0.2</text>
<line x1="413.9" y1="559.9" x2="418.5" y2="559.9" stroke="#000" stroke-width="1.1"/>
<text x="378.42" y="564.42" font-size="13.0" fill="#000" textLength="29.62" lengthAdjust="spacingAndGlyphs">−0.4</text>
<text x="505.33" y="623.90" font-size="13.0" fill="#000" textLength="60.46" lengthAdjust="spacingAndGlyphs">Time (<tspan font-style="italic">μs</tspan>)</text>
<text transform="translate(367.70,529.50) rotate(-90)" x="-0.03" y="0" font-size="13.0" fill="#000" textLength="73.06" lengthAdjust="spacingAndGlyphs">Asymmetry</text>
<text x="468.66" y="392.70" font-size="16.4" fill="#000" textLength="132.78" lengthAdjust="spacingAndGlyphs">MUSR 62260 fwd</text>
<rect x="560.5" y="405.5" width="87" height="15.8" rx="2" fill="#fff" fill-opacity="0.8" stroke="#d4d4d4" stroke-width="1"/>
<line x1="562.1" y1="412.8" x2="583.0" y2="412.8" stroke="#1f77b4" stroke-width="2.1"/>
<text x="590.03" y="415.70" font-size="9.4" fill="#000" textLength="53.63" lengthAdjust="spacingAndGlyphs">MUSR62260</text>
</svg>
</body></html>
